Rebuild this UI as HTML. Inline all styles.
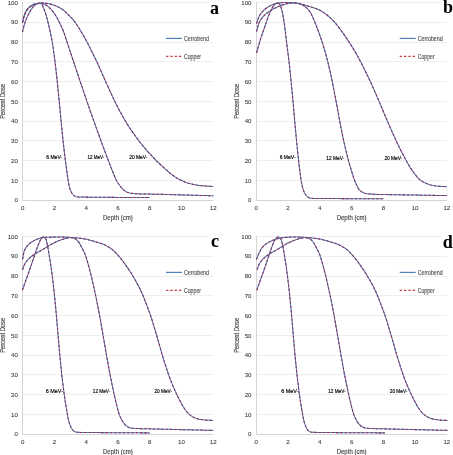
<!DOCTYPE html>
<html><head><meta charset="utf-8"><style>
html,body{margin:0;padding:0;background:#fff;}
body{width:453px;height:455px;overflow:hidden;}
svg{display:block;filter:blur(0.3px);}
.t{font-family:"Liberation Sans",sans-serif;font-size:6.1px;fill:#444444;stroke:#444444;stroke-width:0.1;}
.at{font-family:"Liberation Sans",sans-serif;font-size:6.5px;fill:#444444;stroke:#444444;stroke-width:0.15;}
.lg{font-family:"Liberation Sans",sans-serif;font-size:6.8px;fill:#444444;stroke:#444444;stroke-width:0.1;}
.el{font-family:"Liberation Sans",sans-serif;font-size:6.1px;fill:#000;stroke:#000;stroke-width:0.18;}
.pl{font-family:"Liberation Serif",serif;font-size:18px;font-weight:bold;fill:#000;}
.cb{fill:none;stroke:#5279bb;stroke-width:1.05;}
.cu{fill:none;stroke:#8e2f4e;stroke-width:1.05;stroke-dasharray:2.4 1.9;}
</style></head><body>
<svg width="453" height="455" viewBox="0 0 453 455">
<rect width="453" height="455" fill="#fff"/>
<line x1="22.6" y1="180.5" x2="213.16" y2="180.5" stroke="#eeeeee" stroke-width="1"/>
<line x1="22.6" y1="160.5" x2="213.16" y2="160.5" stroke="#eeeeee" stroke-width="1"/>
<line x1="22.6" y1="140.5" x2="213.16" y2="140.5" stroke="#eeeeee" stroke-width="1"/>
<line x1="22.6" y1="121.5" x2="213.16" y2="121.5" stroke="#eeeeee" stroke-width="1"/>
<line x1="22.6" y1="101.5" x2="213.16" y2="101.5" stroke="#eeeeee" stroke-width="1"/>
<line x1="22.6" y1="81.5" x2="213.16" y2="81.5" stroke="#eeeeee" stroke-width="1"/>
<line x1="22.6" y1="61.5" x2="213.16" y2="61.5" stroke="#eeeeee" stroke-width="1"/>
<line x1="22.6" y1="42.5" x2="213.16" y2="42.5" stroke="#eeeeee" stroke-width="1"/>
<line x1="22.6" y1="22.5" x2="213.16" y2="22.5" stroke="#eeeeee" stroke-width="1"/>
<line x1="22.6" y1="2.5" x2="208.16" y2="2.5" stroke="#eeeeee" stroke-width="1"/>
<line x1="22.5" y1="200.5" x2="213.16" y2="200.5" stroke="#d4d4d4" stroke-width="1"/>
<line x1="22.5" y1="2" x2="22.5" y2="200.5" stroke="#d4d4d4" stroke-width="1"/>
<text x="17.8" y="202.4" class="t" text-anchor="end">0</text>
<text x="17.8" y="182.63" class="t" text-anchor="end">10</text>
<text x="17.8" y="162.86" class="t" text-anchor="end">20</text>
<text x="17.8" y="143.09" class="t" text-anchor="end">30</text>
<text x="17.8" y="123.32" class="t" text-anchor="end">40</text>
<text x="17.8" y="103.55" class="t" text-anchor="end">50</text>
<text x="17.8" y="83.78" class="t" text-anchor="end">60</text>
<text x="17.8" y="64.01" class="t" text-anchor="end">70</text>
<text x="17.8" y="44.24" class="t" text-anchor="end">80</text>
<text x="17.8" y="24.47" class="t" text-anchor="end">90</text>
<text x="17.8" y="4.7" class="t" text-anchor="end">100</text>
<text x="22.6" y="209.8" class="t" text-anchor="middle">0</text>
<text x="54.36" y="209.8" class="t" text-anchor="middle">2</text>
<text x="86.12" y="209.8" class="t" text-anchor="middle">4</text>
<text x="117.88" y="209.8" class="t" text-anchor="middle">6</text>
<text x="149.64" y="209.8" class="t" text-anchor="middle">8</text>
<text x="181.4" y="209.8" class="t" text-anchor="middle">10</text>
<text x="213.16" y="209.8" class="t" text-anchor="middle">12</text>
<text x="117.88" y="219.8" class="at" text-anchor="middle" textLength="29.8" lengthAdjust="spacingAndGlyphs">Depth (cm)</text>
<text transform="translate(4.9 101.35) rotate(-90)" class="at" text-anchor="middle" textLength="34.9" lengthAdjust="spacingAndGlyphs">Percent Dose</text>
<line x1="166" y1="38.4" x2="182" y2="38.4" stroke="#4f81bd" stroke-width="1.2"/>
<line x1="166" y1="56.3" x2="182" y2="56.3" stroke="#c8404a" stroke-width="1.2" stroke-dasharray="2.4 1.9"/>
<text x="184" y="40.5" class="lg" textLength="25" lengthAdjust="spacingAndGlyphs">Cerrobend</text>
<text x="184" y="58.9" class="lg" textLength="17" lengthAdjust="spacingAndGlyphs">Copper</text>
<path d="M22.50 32.10L22.77 30.93L23.03 29.76L23.31 28.59L23.59 27.43L23.89 26.27L24.21 25.11L24.56 23.97L24.93 22.83L25.32 21.69L25.73 20.57L26.17 19.45L26.63 18.35L27.10 17.25L27.59 16.15L28.10 15.07L28.63 13.99L29.18 12.92L29.74 11.87L30.34 10.83L30.96 9.81L31.62 8.83L32.30 7.86L33.03 6.93L33.83 6.06L34.69 5.26L35.65 4.58L36.69 3.98L37.81 3.56L38.97 3.26L40.10 3.21L41.11 3.69L41.97 4.48L42.55 5.49L42.99 6.62L43.45 7.73L43.91 8.83L44.35 9.94L44.76 11.07L45.14 12.20L45.52 13.34L45.88 14.48L46.23 15.63L46.57 16.78L46.89 17.94L47.21 19.09L47.51 20.26L47.80 21.42L48.09 22.58L48.37 23.75L48.65 24.92L48.92 26.08L49.19 27.25L49.46 28.43L49.72 29.60L49.98 30.77L50.23 31.94L50.48 33.11L50.73 34.29L50.98 35.46L51.22 36.64L51.46 37.81L51.70 38.99L51.92 40.17L52.14 41.35L52.35 42.53L52.54 43.71L52.72 44.90L52.89 46.08L53.06 47.27L53.22 48.46L53.39 49.65L53.55 50.84L53.71 52.03L53.87 53.22L54.04 54.41L54.20 55.60L54.36 56.78L54.52 57.97L54.68 59.16L54.83 60.35L54.98 61.54L55.13 62.73L55.27 63.93L55.41 65.12L55.55 66.31L55.69 67.50L55.82 68.69L55.95 69.89L56.09 71.08L56.22 72.27L56.36 73.46L56.49 74.66L56.62 75.85L56.76 77.04L56.89 78.23L57.02 79.43L57.15 80.62L57.28 81.81L57.40 83.01L57.52 84.20L57.64 85.39L57.76 86.59L57.88 87.78L58.00 88.98L58.12 90.17L58.23 91.37L58.35 92.56L58.47 93.75L58.59 94.95L58.70 96.14L58.82 97.34L58.94 98.53L59.05 99.73L59.17 100.92L59.29 102.11L59.40 103.31L59.51 104.50L59.63 105.70L59.74 106.89L59.85 108.09L59.96 109.28L60.08 110.48L60.19 111.67L60.30 112.87L60.42 114.06L60.53 115.26L60.64 116.45L60.76 117.64L60.87 118.84L60.98 120.03L61.10 121.23L61.22 122.42L61.33 123.62L61.45 124.81L61.57 126.01L61.69 127.20L61.81 128.39L61.93 129.59L62.05 130.78L62.17 131.98L62.29 133.17L62.41 134.36L62.53 135.56L62.65 136.75L62.77 137.94L62.90 139.14L63.02 140.33L63.15 141.52L63.28 142.72L63.42 143.91L63.55 145.10L63.69 146.29L63.83 147.49L63.97 148.68L64.10 149.87L64.24 151.06L64.38 152.25L64.52 153.45L64.66 154.64L64.80 155.83L64.94 157.02L65.08 158.21L65.22 159.41L65.37 160.60L65.52 161.79L65.67 162.98L65.83 164.17L65.99 165.36L66.16 166.54L66.32 167.73L66.49 168.92L66.66 170.11L66.84 171.30L67.01 172.48L67.18 173.67L67.35 174.86L67.53 176.05L67.70 177.23L67.88 178.42L68.06 179.61L68.24 180.79L68.43 181.98L68.63 183.16L68.85 184.33L69.09 185.51L69.36 186.66L69.68 187.81L70.03 188.94L70.45 190.06L70.92 191.15L71.41 192.23L71.96 193.29L72.61 194.29L73.41 195.18L74.36 195.88L75.42 196.41L76.57 196.72L77.75 196.92L78.94 197.01L80.14 197.01L81.34 197.03L82.54 197.05L83.74 197.07L84.94 197.09L86.14 197.11L87.34 197.13L88.54 197.14L89.74 197.16L90.94 197.18L92.14 197.19L93.34 197.21L94.54 197.23L95.74 197.24L96.94 197.26L98.14 197.27L99.34 197.28L100.54 197.30L101.74 197.31L102.94 197.32L104.14 197.32L105.34 197.33L106.54 197.34L107.74 197.35L108.94 197.35L110.14 197.36L111.34 197.37L112.54 197.38L113.74 197.38L114.94 197.39L116.14 197.40L117.34 197.40L118.54 197.41L119.74 197.42L120.94 197.43L122.14 197.43L123.34 197.44L124.54 197.45L125.74 197.46L126.94 197.46L128.14 197.47L129.34 197.48L130.54 197.48L131.74 197.49L132.94 197.50L134.14 197.51L135.34 197.51L136.54 197.52L137.74 197.53L138.94 197.54L140.14 197.54L141.34 197.55L142.53 197.56L143.73 197.56L144.93 197.57L146.13 197.58L147.32 197.59L148.51 197.59L149.70 197.60L149.70 197.60" class="cb"/>
<path d="M22.50 32.10L22.77 30.93L23.03 29.76L23.31 28.59L23.59 27.43L23.89 26.27L24.21 25.11L24.56 23.97L24.93 22.83L25.32 21.69L25.73 20.57L26.17 19.45L26.63 18.35L27.10 17.25L27.59 16.15L28.10 15.07L28.63 13.99L29.18 12.92L29.74 11.87L30.34 10.83L30.96 9.81L31.62 8.83L32.30 7.86L33.03 6.93L33.83 6.06L34.69 5.26L35.65 4.58L36.69 3.98L37.81 3.56L38.97 3.26L40.10 3.21L41.11 3.69L41.97 4.48L42.55 5.49L42.99 6.62L43.45 7.73L43.91 8.83L44.35 9.94L44.76 11.07L45.14 12.20L45.52 13.34L45.88 14.48L46.23 15.63L46.57 16.78L46.89 17.94L47.21 19.09L47.51 20.26L47.80 21.42L48.09 22.58L48.37 23.75L48.65 24.92L48.92 26.08L49.19 27.25L49.46 28.43L49.72 29.60L49.98 30.77L50.23 31.94L50.48 33.11L50.73 34.29L50.98 35.46L51.22 36.64L51.46 37.81L51.70 38.99L51.92 40.17L52.14 41.35L52.35 42.53L52.54 43.71L52.72 44.90L52.89 46.08L53.06 47.27L53.22 48.46L53.39 49.65L53.55 50.84L53.71 52.03L53.87 53.22L54.04 54.41L54.20 55.60L54.36 56.78L54.52 57.97L54.68 59.16L54.83 60.35L54.98 61.54L55.13 62.73L55.27 63.93L55.41 65.12L55.55 66.31L55.69 67.50L55.82 68.69L55.95 69.89L56.09 71.08L56.22 72.27L56.36 73.46L56.49 74.66L56.62 75.85L56.76 77.04L56.89 78.23L57.02 79.43L57.15 80.62L57.28 81.81L57.40 83.01L57.52 84.20L57.64 85.39L57.76 86.59L57.88 87.78L58.00 88.98L58.12 90.17L58.23 91.37L58.35 92.56L58.47 93.75L58.59 94.95L58.70 96.14L58.82 97.34L58.94 98.53L59.05 99.73L59.17 100.92L59.29 102.11L59.40 103.31L59.51 104.50L59.63 105.70L59.74 106.89L59.85 108.09L59.96 109.28L60.08 110.48L60.19 111.67L60.30 112.87L60.42 114.06L60.53 115.26L60.64 116.45L60.76 117.64L60.87 118.84L60.98 120.03L61.10 121.23L61.22 122.42L61.33 123.62L61.45 124.81L61.57 126.01L61.69 127.20L61.81 128.39L61.93 129.59L62.05 130.78L62.17 131.98L62.29 133.17L62.41 134.36L62.53 135.56L62.65 136.75L62.77 137.94L62.90 139.14L63.02 140.33L63.15 141.52L63.28 142.72L63.42 143.91L63.55 145.10L63.69 146.29L63.83 147.49L63.97 148.68L64.10 149.87L64.24 151.06L64.38 152.25L64.52 153.45L64.66 154.64L64.80 155.83L64.94 157.02L65.08 158.21L65.22 159.41L65.37 160.60L65.52 161.79L65.67 162.98L65.83 164.17L65.99 165.36L66.16 166.54L66.32 167.73L66.49 168.92L66.66 170.11L66.84 171.30L67.01 172.48L67.18 173.67L67.35 174.86L67.53 176.05L67.70 177.23L67.88 178.42L68.06 179.61L68.24 180.79L68.43 181.98L68.63 183.16L68.85 184.33L69.09 185.51L69.36 186.66L69.68 187.81L70.03 188.94L70.45 190.06L70.92 191.15L71.41 192.23L71.96 193.29L72.61 194.29L73.41 195.18L74.36 195.88L75.42 196.41L76.57 196.72L77.75 196.92L78.94 197.01L80.14 197.01L81.34 197.03L82.54 197.05L83.74 197.07L84.94 197.09L86.14 197.11L87.34 197.13L88.54 197.14L89.74 197.16L90.94 197.18L92.14 197.19L93.34 197.21L94.54 197.23L95.74 197.24L96.94 197.26L98.14 197.27L99.34 197.28L100.54 197.30L101.74 197.31L102.94 197.32L104.14 197.32L105.34 197.33L106.54 197.34L107.74 197.35L108.94 197.35L110.14 197.36L111.34 197.37L112.54 197.38L113.74 197.38L114.94 197.39L116.14 197.40L117.34 197.40L118.54 197.41L119.74 197.42L120.94 197.43L122.14 197.43L123.34 197.44L124.54 197.45L125.74 197.46L126.94 197.46L128.14 197.47L129.34 197.48L130.54 197.48L131.74 197.49L132.94 197.50L134.14 197.51L135.34 197.51L136.54 197.52L137.74 197.53L138.94 197.54L140.14 197.54L141.34 197.55L142.53 197.56L143.73 197.56L144.93 197.57L146.13 197.58L147.32 197.59L148.51 197.59L149.70 197.60L149.70 197.60" class="cu"/>
<path d="M22.50 22.40L22.76 21.23L23.03 20.06L23.30 18.89L23.60 17.73L23.92 16.58L24.26 15.44L24.65 14.31L25.09 13.20L25.58 12.12L26.13 11.08L26.74 10.07L27.42 9.12L28.17 8.22L28.99 7.38L29.88 6.61L30.82 5.92L31.82 5.31L32.86 4.78L33.95 4.33L35.06 3.96L36.20 3.67L37.36 3.46L38.53 3.33L39.69 3.29L40.85 3.34L42.00 3.50L43.11 3.78L44.20 4.17L45.25 4.67L46.25 5.27L47.23 5.93L48.16 6.66L49.06 7.44L49.93 8.25L50.77 9.10L51.58 9.98L52.36 10.88L53.11 11.81L53.83 12.76L54.52 13.74L55.18 14.73L55.81 15.75L56.42 16.78L57.01 17.82L57.59 18.87L58.15 19.93L58.70 21.00L59.24 22.07L59.78 23.14L60.30 24.22L60.83 25.30L61.34 26.38L61.85 27.47L62.33 28.57L62.80 29.67L63.25 30.78L63.67 31.90L64.07 33.03L64.46 34.16L64.85 35.30L65.22 36.44L65.60 37.58L65.98 38.72L66.35 39.86L66.73 41.00L67.10 42.14L67.48 43.28L67.86 44.41L68.23 45.55L68.61 46.69L68.99 47.83L69.36 48.97L69.74 50.11L70.11 51.25L70.49 52.39L70.87 53.53L71.24 54.67L71.62 55.81L72.00 56.95L72.37 58.09L72.75 59.23L73.13 60.37L73.51 61.51L73.88 62.64L74.26 63.78L74.64 64.92L75.02 66.06L75.40 67.20L75.78 68.34L76.16 69.47L76.54 70.61L76.92 71.75L77.30 72.89L77.68 74.03L78.06 75.17L78.44 76.30L78.82 77.44L79.20 78.58L79.59 79.72L79.97 80.85L80.35 81.99L80.74 83.13L81.12 84.27L81.51 85.40L81.89 86.54L82.28 87.67L82.66 88.81L83.05 89.95L83.44 91.08L83.82 92.22L84.21 93.35L84.60 94.49L84.98 95.63L85.37 96.76L85.76 97.90L86.14 99.03L86.53 100.17L86.92 101.30L87.31 102.44L87.71 103.57L88.10 104.71L88.49 105.84L88.88 106.98L89.28 108.11L89.67 109.24L90.07 110.38L90.46 111.51L90.86 112.64L91.26 113.77L91.65 114.91L92.05 116.04L92.45 117.17L92.85 118.30L93.25 119.43L93.65 120.56L94.05 121.69L94.46 122.82L94.86 123.95L95.27 125.08L95.68 126.21L96.08 127.34L96.49 128.47L96.90 129.60L97.31 130.73L97.71 131.85L98.12 132.98L98.53 134.11L98.94 135.24L99.34 136.37L99.75 137.50L100.16 138.63L100.57 139.75L100.98 140.88L101.40 142.01L101.81 143.13L102.23 144.26L102.64 145.38L103.06 146.51L103.48 147.63L103.90 148.76L104.32 149.88L104.74 151.00L105.16 152.13L105.59 153.25L106.01 154.37L106.44 155.50L106.86 156.62L107.29 157.74L107.72 158.86L108.15 159.98L108.58 161.10L109.01 162.22L109.44 163.34L109.87 164.46L110.30 165.58L110.74 166.70L111.17 167.82L111.61 168.93L112.05 170.05L112.49 171.17L112.93 172.28L113.37 173.40L113.81 174.51L114.26 175.63L114.72 176.74L115.19 177.84L115.68 178.92L116.21 179.99L116.78 181.04L117.38 182.06L118.03 183.06L118.71 184.04L119.42 185.01L120.14 185.96L120.89 186.89L121.68 187.79L122.49 188.67L123.32 189.54L124.24 190.31L125.22 191.00L126.21 191.66L127.28 192.18L128.40 192.61L129.53 193.00L130.70 193.24L131.89 193.38L133.08 193.52L134.27 193.64L135.47 193.72L136.67 193.78L137.86 193.83L139.06 193.87L140.26 193.90L141.46 193.93L142.66 193.95L143.86 193.98L145.06 194.00L146.26 194.03L147.46 194.05L148.66 194.07L149.86 194.10L151.06 194.12L152.26 194.15L153.46 194.17L154.66 194.19L155.86 194.22L157.06 194.24L158.26 194.27L159.46 194.30L160.66 194.33L161.86 194.36L163.06 194.39L164.25 194.42L165.45 194.45L166.65 194.49L167.85 194.52L169.05 194.56L170.25 194.59L171.45 194.62L172.65 194.66L173.85 194.69L175.05 194.72L176.25 194.76L177.45 194.79L178.65 194.83L179.85 194.86L181.05 194.89L182.25 194.93L183.45 194.96L184.65 194.99L185.85 195.03L187.05 195.06L188.25 195.10L189.44 195.13L190.64 195.16L191.84 195.20L193.04 195.23L194.24 195.27L195.44 195.30L196.64 195.33L197.84 195.37L199.04 195.40L200.24 195.43L201.44 195.47L202.64 195.50L203.84 195.54L205.04 195.57L206.23 195.60L207.43 195.64L208.61 195.67L209.78 195.70L210.94 195.74L212.07 195.77L213.20 195.80L213.20 195.80" class="cb"/>
<path d="M22.50 22.40L22.76 21.23L23.03 20.06L23.30 18.89L23.60 17.73L23.92 16.58L24.26 15.44L24.65 14.31L25.09 13.20L25.58 12.12L26.13 11.08L26.74 10.07L27.42 9.12L28.17 8.22L28.99 7.38L29.88 6.61L30.82 5.92L31.82 5.31L32.86 4.78L33.95 4.33L35.06 3.96L36.20 3.67L37.36 3.46L38.53 3.33L39.69 3.29L40.85 3.34L42.00 3.50L43.11 3.78L44.20 4.17L45.25 4.67L46.25 5.27L47.23 5.93L48.16 6.66L49.06 7.44L49.93 8.25L50.77 9.10L51.58 9.98L52.36 10.88L53.11 11.81L53.83 12.76L54.52 13.74L55.18 14.73L55.81 15.75L56.42 16.78L57.01 17.82L57.59 18.87L58.15 19.93L58.70 21.00L59.24 22.07L59.78 23.14L60.30 24.22L60.83 25.30L61.34 26.38L61.85 27.47L62.33 28.57L62.80 29.67L63.25 30.78L63.67 31.90L64.07 33.03L64.46 34.16L64.85 35.30L65.22 36.44L65.60 37.58L65.98 38.72L66.35 39.86L66.73 41.00L67.10 42.14L67.48 43.28L67.86 44.41L68.23 45.55L68.61 46.69L68.99 47.83L69.36 48.97L69.74 50.11L70.11 51.25L70.49 52.39L70.87 53.53L71.24 54.67L71.62 55.81L72.00 56.95L72.37 58.09L72.75 59.23L73.13 60.37L73.51 61.51L73.88 62.64L74.26 63.78L74.64 64.92L75.02 66.06L75.40 67.20L75.78 68.34L76.16 69.47L76.54 70.61L76.92 71.75L77.30 72.89L77.68 74.03L78.06 75.17L78.44 76.30L78.82 77.44L79.20 78.58L79.59 79.72L79.97 80.85L80.35 81.99L80.74 83.13L81.12 84.27L81.51 85.40L81.89 86.54L82.28 87.67L82.66 88.81L83.05 89.95L83.44 91.08L83.82 92.22L84.21 93.35L84.60 94.49L84.98 95.63L85.37 96.76L85.76 97.90L86.14 99.03L86.53 100.17L86.92 101.30L87.31 102.44L87.71 103.57L88.10 104.71L88.49 105.84L88.88 106.98L89.28 108.11L89.67 109.24L90.07 110.38L90.46 111.51L90.86 112.64L91.26 113.77L91.65 114.91L92.05 116.04L92.45 117.17L92.85 118.30L93.25 119.43L93.65 120.56L94.05 121.69L94.46 122.82L94.86 123.95L95.27 125.08L95.68 126.21L96.08 127.34L96.49 128.47L96.90 129.60L97.31 130.73L97.71 131.85L98.12 132.98L98.53 134.11L98.94 135.24L99.34 136.37L99.75 137.50L100.16 138.63L100.57 139.75L100.98 140.88L101.40 142.01L101.81 143.13L102.23 144.26L102.64 145.38L103.06 146.51L103.48 147.63L103.90 148.76L104.32 149.88L104.74 151.00L105.16 152.13L105.59 153.25L106.01 154.37L106.44 155.50L106.86 156.62L107.29 157.74L107.72 158.86L108.15 159.98L108.58 161.10L109.01 162.22L109.44 163.34L109.87 164.46L110.30 165.58L110.74 166.70L111.17 167.82L111.61 168.93L112.05 170.05L112.49 171.17L112.93 172.28L113.37 173.40L113.81 174.51L114.26 175.63L114.72 176.74L115.19 177.84L115.68 178.92L116.21 179.99L116.78 181.04L117.38 182.06L118.03 183.06L118.71 184.04L119.42 185.01L120.14 185.96L120.89 186.89L121.68 187.79L122.49 188.67L123.32 189.54L124.24 190.31L125.22 191.00L126.21 191.66L127.28 192.18L128.40 192.61L129.53 193.00L130.70 193.24L131.89 193.38L133.08 193.52L134.27 193.64L135.47 193.72L136.67 193.78L137.86 193.83L139.06 193.87L140.26 193.90L141.46 193.93L142.66 193.95L143.86 193.98L145.06 194.00L146.26 194.03L147.46 194.05L148.66 194.07L149.86 194.10L151.06 194.12L152.26 194.15L153.46 194.17L154.66 194.19L155.86 194.22L157.06 194.24L158.26 194.27L159.46 194.30L160.66 194.33L161.86 194.36L163.06 194.39L164.25 194.42L165.45 194.45L166.65 194.49L167.85 194.52L169.05 194.56L170.25 194.59L171.45 194.62L172.65 194.66L173.85 194.69L175.05 194.72L176.25 194.76L177.45 194.79L178.65 194.83L179.85 194.86L181.05 194.89L182.25 194.93L183.45 194.96L184.65 194.99L185.85 195.03L187.05 195.06L188.25 195.10L189.44 195.13L190.64 195.16L191.84 195.20L193.04 195.23L194.24 195.27L195.44 195.30L196.64 195.33L197.84 195.37L199.04 195.40L200.24 195.43L201.44 195.47L202.64 195.50L203.84 195.54L205.04 195.57L206.23 195.60L207.43 195.64L208.61 195.67L209.78 195.70L210.94 195.74L212.07 195.77L213.20 195.80L213.20 195.80" class="cu"/>
<path d="M22.50 23.00L22.75 21.83L23.01 20.66L23.29 19.49L23.58 18.33L23.89 17.17L24.23 16.03L24.61 14.90L25.04 13.79L25.51 12.70L26.05 11.64L26.64 10.62L27.31 9.65L28.03 8.73L28.83 7.87L29.69 7.07L30.61 6.35L31.59 5.70L32.61 5.13L33.68 4.64L34.78 4.23L35.91 3.90L37.06 3.63L38.23 3.43L39.41 3.27L40.60 3.15L41.79 3.08L42.98 3.07L44.17 3.10L45.35 3.20L46.53 3.34L47.71 3.54L48.88 3.78L50.04 4.06L51.20 4.37L52.35 4.70L53.49 5.07L54.62 5.46L55.74 5.88L56.84 6.34L57.92 6.84L58.99 7.37L60.04 7.95L61.06 8.56L62.06 9.21L63.02 9.90L63.96 10.63L64.86 11.41L65.74 12.21L66.61 13.04L67.46 13.88L68.31 14.72L69.16 15.57L70.00 16.43L70.84 17.29L71.67 18.15L72.47 19.04L73.26 19.94L74.02 20.86L74.75 21.81L75.45 22.77L76.13 23.76L76.80 24.75L77.46 25.75L78.12 26.76L78.77 27.77L79.41 28.78L80.03 29.80L80.65 30.83L81.27 31.86L81.87 32.90L82.48 33.93L83.08 34.97L83.68 36.01L84.28 37.05L84.87 38.09L85.47 39.13L86.06 40.18L86.64 41.23L87.21 42.28L87.76 43.35L88.31 44.41L88.85 45.48L89.38 46.56L89.92 47.63L90.45 48.71L90.98 49.79L91.51 50.86L92.04 51.94L92.56 53.02L93.09 54.10L93.62 55.17L94.15 56.25L94.68 57.33L95.21 58.41L95.73 59.48L96.25 60.57L96.76 61.65L97.27 62.74L97.77 63.83L98.27 64.92L98.76 66.02L99.25 67.11L99.73 68.21L100.22 69.30L100.71 70.40L101.20 71.50L101.68 72.60L102.17 73.69L102.66 74.79L103.14 75.89L103.63 76.98L104.12 78.08L104.61 79.17L105.10 80.27L105.59 81.36L106.08 82.46L106.58 83.55L107.08 84.64L107.58 85.73L108.08 86.82L108.58 87.91L109.08 89.01L109.58 90.10L110.08 91.19L110.58 92.28L111.08 93.37L111.58 94.46L112.09 95.55L112.59 96.64L113.09 97.73L113.60 98.81L114.11 99.90L114.62 100.98L115.15 102.06L115.68 103.14L116.21 104.21L116.75 105.29L117.29 106.35L117.84 107.42L118.39 108.49L118.95 109.55L119.52 110.61L120.09 111.66L120.67 112.71L121.25 113.76L121.84 114.81L122.43 115.86L123.01 116.90L123.61 117.95L124.20 118.99L124.80 120.03L125.41 121.06L126.03 122.09L126.65 123.11L127.28 124.13L127.92 125.15L128.56 126.16L129.21 127.17L129.87 128.18L130.53 129.17L131.21 130.17L131.89 131.15L132.58 132.13L133.27 133.11L133.97 134.09L134.66 135.07L135.36 136.04L136.06 137.02L136.76 137.99L137.47 138.96L138.18 139.93L138.91 140.88L139.64 141.83L140.39 142.77L141.14 143.70L141.90 144.63L142.66 145.56L143.43 146.48L144.19 147.41L144.96 148.33L145.74 149.24L146.52 150.15L147.31 151.05L148.11 151.94L148.92 152.83L149.74 153.71L150.56 154.58L151.38 155.46L152.21 156.33L153.03 157.20L153.86 158.07L154.69 158.94L155.52 159.80L156.36 160.66L157.21 161.51L158.07 162.35L158.93 163.18L159.80 164.00L160.68 164.82L161.56 165.63L162.45 166.44L163.33 167.25L164.23 168.06L165.12 168.86L166.01 169.66L166.91 170.45L167.82 171.24L168.72 172.02L169.64 172.80L170.56 173.56L171.50 174.31L172.45 175.04L173.42 175.74L174.40 176.43L175.40 177.09L176.41 177.73L177.43 178.35L178.47 178.95L179.52 179.52L180.59 180.06L181.67 180.58L182.76 181.07L183.86 181.54L184.97 181.99L186.09 182.40L187.22 182.79L188.36 183.16L189.51 183.50L190.67 183.82L191.83 184.11L193.00 184.38L194.17 184.62L195.35 184.85L196.53 185.06L197.71 185.24L198.90 185.41L200.09 185.56L201.28 185.69L202.47 185.81L203.67 185.91L204.86 186.00L206.06 186.08L207.26 186.15L208.45 186.22L209.64 186.29L210.83 186.35L212.02 186.42L213.20 186.49L213.20 186.49" class="cb"/>
<path d="M22.50 23.00L22.75 21.83L23.01 20.66L23.29 19.49L23.58 18.33L23.89 17.17L24.23 16.03L24.61 14.90L25.04 13.79L25.51 12.70L26.05 11.64L26.64 10.62L27.31 9.65L28.03 8.73L28.83 7.87L29.69 7.07L30.61 6.35L31.59 5.70L32.61 5.13L33.68 4.64L34.78 4.23L35.91 3.90L37.06 3.63L38.23 3.43L39.41 3.27L40.60 3.15L41.79 3.08L42.98 3.07L44.17 3.10L45.35 3.20L46.53 3.34L47.71 3.54L48.88 3.78L50.04 4.06L51.20 4.37L52.35 4.70L53.49 5.07L54.62 5.46L55.74 5.88L56.84 6.34L57.92 6.84L58.99 7.37L60.04 7.95L61.06 8.56L62.06 9.21L63.02 9.90L63.96 10.63L64.86 11.41L65.74 12.21L66.61 13.04L67.46 13.88L68.31 14.72L69.16 15.57L70.00 16.43L70.84 17.29L71.67 18.15L72.47 19.04L73.26 19.94L74.02 20.86L74.75 21.81L75.45 22.77L76.13 23.76L76.80 24.75L77.46 25.75L78.12 26.76L78.77 27.77L79.41 28.78L80.03 29.80L80.65 30.83L81.27 31.86L81.87 32.90L82.48 33.93L83.08 34.97L83.68 36.01L84.28 37.05L84.87 38.09L85.47 39.13L86.06 40.18L86.64 41.23L87.21 42.28L87.76 43.35L88.31 44.41L88.85 45.48L89.38 46.56L89.92 47.63L90.45 48.71L90.98 49.79L91.51 50.86L92.04 51.94L92.56 53.02L93.09 54.10L93.62 55.17L94.15 56.25L94.68 57.33L95.21 58.41L95.73 59.48L96.25 60.57L96.76 61.65L97.27 62.74L97.77 63.83L98.27 64.92L98.76 66.02L99.25 67.11L99.73 68.21L100.22 69.30L100.71 70.40L101.20 71.50L101.68 72.60L102.17 73.69L102.66 74.79L103.14 75.89L103.63 76.98L104.12 78.08L104.61 79.17L105.10 80.27L105.59 81.36L106.08 82.46L106.58 83.55L107.08 84.64L107.58 85.73L108.08 86.82L108.58 87.91L109.08 89.01L109.58 90.10L110.08 91.19L110.58 92.28L111.08 93.37L111.58 94.46L112.09 95.55L112.59 96.64L113.09 97.73L113.60 98.81L114.11 99.90L114.62 100.98L115.15 102.06L115.68 103.14L116.21 104.21L116.75 105.29L117.29 106.35L117.84 107.42L118.39 108.49L118.95 109.55L119.52 110.61L120.09 111.66L120.67 112.71L121.25 113.76L121.84 114.81L122.43 115.86L123.01 116.90L123.61 117.95L124.20 118.99L124.80 120.03L125.41 121.06L126.03 122.09L126.65 123.11L127.28 124.13L127.92 125.15L128.56 126.16L129.21 127.17L129.87 128.18L130.53 129.17L131.21 130.17L131.89 131.15L132.58 132.13L133.27 133.11L133.97 134.09L134.66 135.07L135.36 136.04L136.06 137.02L136.76 137.99L137.47 138.96L138.18 139.93L138.91 140.88L139.64 141.83L140.39 142.77L141.14 143.70L141.90 144.63L142.66 145.56L143.43 146.48L144.19 147.41L144.96 148.33L145.74 149.24L146.52 150.15L147.31 151.05L148.11 151.94L148.92 152.83L149.74 153.71L150.56 154.58L151.38 155.46L152.21 156.33L153.03 157.20L153.86 158.07L154.69 158.94L155.52 159.80L156.36 160.66L157.21 161.51L158.07 162.35L158.93 163.18L159.80 164.00L160.68 164.82L161.56 165.63L162.45 166.44L163.33 167.25L164.23 168.06L165.12 168.86L166.01 169.66L166.91 170.45L167.82 171.24L168.72 172.02L169.64 172.80L170.56 173.56L171.50 174.31L172.45 175.04L173.42 175.74L174.40 176.43L175.40 177.09L176.41 177.73L177.43 178.35L178.47 178.95L179.52 179.52L180.59 180.06L181.67 180.58L182.76 181.07L183.86 181.54L184.97 181.99L186.09 182.40L187.22 182.79L188.36 183.16L189.51 183.50L190.67 183.82L191.83 184.11L193.00 184.38L194.17 184.62L195.35 184.85L196.53 185.06L197.71 185.24L198.90 185.41L200.09 185.56L201.28 185.69L202.47 185.81L203.67 185.91L204.86 186.00L206.06 186.08L207.26 186.15L208.45 186.22L209.64 186.29L210.83 186.35L212.02 186.42L213.20 186.49L213.20 186.49" class="cu"/>
<text x="46.2" y="158.6" class="el" textLength="16" lengthAdjust="spacingAndGlyphs">6 MeV-</text>
<text x="87.4" y="158.7" class="el" textLength="17" lengthAdjust="spacingAndGlyphs">12 MeV-</text>
<text x="129.3" y="158.6" class="el" textLength="18.1" lengthAdjust="spacingAndGlyphs">20 MeV-</text>
<rect x="207.96" y="-0" width="20" height="6" fill="#fff"/>
<text x="210" y="13.9" class="pl">a</text>
<line x1="256.3" y1="180.5" x2="446.86" y2="180.5" stroke="#eeeeee" stroke-width="1"/>
<line x1="256.3" y1="160.5" x2="446.86" y2="160.5" stroke="#eeeeee" stroke-width="1"/>
<line x1="256.3" y1="140.5" x2="446.86" y2="140.5" stroke="#eeeeee" stroke-width="1"/>
<line x1="256.3" y1="121.5" x2="446.86" y2="121.5" stroke="#eeeeee" stroke-width="1"/>
<line x1="256.3" y1="101.5" x2="446.86" y2="101.5" stroke="#eeeeee" stroke-width="1"/>
<line x1="256.3" y1="81.5" x2="446.86" y2="81.5" stroke="#eeeeee" stroke-width="1"/>
<line x1="256.3" y1="61.5" x2="446.86" y2="61.5" stroke="#eeeeee" stroke-width="1"/>
<line x1="256.3" y1="42.5" x2="446.86" y2="42.5" stroke="#eeeeee" stroke-width="1"/>
<line x1="256.3" y1="22.5" x2="446.86" y2="22.5" stroke="#eeeeee" stroke-width="1"/>
<line x1="256.3" y1="2.5" x2="441.86" y2="2.5" stroke="#eeeeee" stroke-width="1"/>
<line x1="256.5" y1="200.5" x2="446.86" y2="200.5" stroke="#d4d4d4" stroke-width="1"/>
<line x1="256.5" y1="2" x2="256.5" y2="200.5" stroke="#d4d4d4" stroke-width="1"/>
<text x="251.5" y="202.4" class="t" text-anchor="end">0</text>
<text x="251.5" y="182.63" class="t" text-anchor="end">10</text>
<text x="251.5" y="162.86" class="t" text-anchor="end">20</text>
<text x="251.5" y="143.09" class="t" text-anchor="end">30</text>
<text x="251.5" y="123.32" class="t" text-anchor="end">40</text>
<text x="251.5" y="103.55" class="t" text-anchor="end">50</text>
<text x="251.5" y="83.78" class="t" text-anchor="end">60</text>
<text x="251.5" y="64.01" class="t" text-anchor="end">70</text>
<text x="251.5" y="44.24" class="t" text-anchor="end">80</text>
<text x="251.5" y="24.47" class="t" text-anchor="end">90</text>
<text x="251.5" y="4.7" class="t" text-anchor="end">100</text>
<text x="256.3" y="209.8" class="t" text-anchor="middle">0</text>
<text x="288.06" y="209.8" class="t" text-anchor="middle">2</text>
<text x="319.82" y="209.8" class="t" text-anchor="middle">4</text>
<text x="351.58" y="209.8" class="t" text-anchor="middle">6</text>
<text x="383.34" y="209.8" class="t" text-anchor="middle">8</text>
<text x="415.1" y="209.8" class="t" text-anchor="middle">10</text>
<text x="446.86" y="209.8" class="t" text-anchor="middle">12</text>
<text x="351.58" y="219.8" class="at" text-anchor="middle" textLength="29.8" lengthAdjust="spacingAndGlyphs">Depth (cm)</text>
<text transform="translate(238.6 101.35) rotate(-90)" class="at" text-anchor="middle" textLength="34.9" lengthAdjust="spacingAndGlyphs">Percent Dose</text>
<line x1="399.7" y1="38.4" x2="415.7" y2="38.4" stroke="#4f81bd" stroke-width="1.2"/>
<line x1="399.7" y1="56.3" x2="415.7" y2="56.3" stroke="#c8404a" stroke-width="1.2" stroke-dasharray="2.4 1.9"/>
<text x="417.7" y="40.5" class="lg" textLength="25" lengthAdjust="spacingAndGlyphs">Cerrobend</text>
<text x="417.7" y="58.9" class="lg" textLength="17" lengthAdjust="spacingAndGlyphs">Copper</text>
<path d="M256.60 52.80L256.92 51.64L257.25 50.49L257.57 49.33L257.90 48.18L258.22 47.02L258.54 45.87L258.87 44.71L259.20 43.56L259.53 42.41L259.87 41.26L260.22 40.11L260.58 38.96L260.95 37.82L261.33 36.69L261.72 35.55L262.11 34.42L262.50 33.28L262.90 32.15L263.29 31.01L263.68 29.88L264.08 28.75L264.47 27.61L264.86 26.48L265.25 25.34L265.63 24.21L266.02 23.07L266.40 21.93L266.79 20.80L267.17 19.66L267.56 18.53L267.96 17.40L268.37 16.27L268.81 15.15L269.26 14.05L269.75 12.95L270.25 11.87L270.77 10.79L271.32 9.73L271.87 8.67L272.43 7.62L273.03 6.60L273.78 5.68L274.60 4.80L275.45 3.95L276.31 3.16L277.27 2.90L278.36 3.26L279.42 3.76L280.14 4.58L280.50 5.71L280.83 6.85L281.18 7.99L281.52 9.13L281.84 10.27L282.13 11.43L282.41 12.60L282.67 13.77L282.90 14.94L283.11 16.12L283.31 17.30L283.50 18.49L283.68 19.67L283.86 20.86L284.04 22.05L284.21 23.23L284.39 24.42L284.55 25.61L284.71 26.80L284.87 27.99L285.02 29.18L285.17 30.37L285.31 31.56L285.45 32.75L285.60 33.94L285.74 35.13L285.88 36.33L286.02 37.52L286.16 38.71L286.31 39.90L286.45 41.09L286.60 42.28L286.74 43.47L286.89 44.66L287.04 45.86L287.19 47.05L287.34 48.24L287.49 49.43L287.64 50.62L287.79 51.81L287.94 53.00L288.09 54.19L288.24 55.38L288.39 56.57L288.54 57.76L288.69 58.95L288.83 60.14L288.97 61.33L289.11 62.53L289.25 63.72L289.38 64.91L289.50 66.11L289.63 67.30L289.76 68.49L289.88 69.69L290.01 70.88L290.14 72.07L290.26 73.27L290.39 74.46L290.51 75.65L290.64 76.85L290.76 78.04L290.89 79.23L291.01 80.43L291.13 81.62L291.25 82.81L291.36 84.01L291.48 85.20L291.59 86.40L291.70 87.59L291.81 88.79L291.92 89.98L292.03 91.18L292.15 92.37L292.26 93.57L292.37 94.76L292.48 95.96L292.59 97.15L292.70 98.35L292.81 99.54L292.92 100.74L293.03 101.93L293.13 103.13L293.24 104.32L293.35 105.52L293.45 106.71L293.56 107.91L293.67 109.10L293.77 110.30L293.88 111.49L293.98 112.69L294.09 113.88L294.19 115.08L294.30 116.28L294.40 117.47L294.51 118.67L294.62 119.86L294.72 121.06L294.83 122.25L294.94 123.45L295.05 124.64L295.16 125.84L295.26 127.03L295.37 128.23L295.48 129.42L295.59 130.62L295.70 131.81L295.81 133.01L295.92 134.20L296.03 135.40L296.14 136.59L296.25 137.79L296.37 138.98L296.48 140.18L296.60 141.37L296.71 142.56L296.83 143.76L296.96 144.95L297.08 146.15L297.20 147.34L297.32 148.53L297.45 149.73L297.57 150.92L297.69 152.11L297.81 153.31L297.94 154.50L298.06 155.70L298.19 156.89L298.31 158.08L298.44 159.28L298.57 160.47L298.71 161.66L298.85 162.85L298.99 164.04L299.13 165.24L299.28 166.43L299.42 167.62L299.57 168.81L299.71 170.00L299.86 171.19L300.00 172.38L300.15 173.57L300.30 174.76L300.45 175.95L300.61 177.14L300.77 178.33L300.96 179.52L301.15 180.70L301.37 181.88L301.61 183.05L301.86 184.22L302.12 185.39L302.40 186.56L302.70 187.72L303.03 188.86L303.39 189.99L303.78 191.11L304.26 192.19L304.80 193.25L305.36 194.29L305.98 195.30L306.79 196.16L307.74 196.88L308.71 197.59L309.74 198.11L310.91 198.27L312.10 198.34L313.30 198.40L314.50 198.45L315.70 198.48L316.90 198.49L318.10 198.50L319.30 198.51L320.50 198.52L321.70 198.53L322.90 198.53L324.10 198.54L325.30 198.54L326.50 198.55L327.70 198.55L328.90 198.56L330.10 198.56L331.30 198.57L332.50 198.57L333.70 198.57L334.90 198.58L336.10 198.58L337.30 198.59L338.50 198.59L339.70 198.60L340.90 198.60L342.10 198.61L343.30 198.62L344.50 198.62L345.70 198.63L346.90 198.63L348.10 198.64L349.30 198.64L350.50 198.65L351.70 198.65L352.90 198.66L354.10 198.66L355.30 198.67L356.50 198.68L357.70 198.68L358.90 198.69L360.10 198.69L361.30 198.70L362.50 198.70L363.70 198.71L364.90 198.71L366.10 198.72L367.30 198.73L368.50 198.73L369.70 198.74L370.90 198.74L372.10 198.75L373.30 198.75L374.50 198.76L375.69 198.76L376.89 198.77L378.08 198.78L379.25 198.78L380.41 198.79L381.55 198.79L382.66 198.80L383.40 198.80" class="cb"/>
<path d="M256.60 52.80L256.92 51.64L257.25 50.49L257.57 49.33L257.90 48.18L258.22 47.02L258.54 45.87L258.87 44.71L259.20 43.56L259.53 42.41L259.87 41.26L260.22 40.11L260.58 38.96L260.95 37.82L261.33 36.69L261.72 35.55L262.11 34.42L262.50 33.28L262.90 32.15L263.29 31.01L263.68 29.88L264.08 28.75L264.47 27.61L264.86 26.48L265.25 25.34L265.63 24.21L266.02 23.07L266.40 21.93L266.79 20.80L267.17 19.66L267.56 18.53L267.96 17.40L268.37 16.27L268.81 15.15L269.26 14.05L269.75 12.95L270.25 11.87L270.77 10.79L271.32 9.73L271.87 8.67L272.43 7.62L273.03 6.60L273.78 5.68L274.60 4.80L275.45 3.95L276.31 3.16L277.27 2.90L278.36 3.26L279.42 3.76L280.14 4.58L280.50 5.71L280.83 6.85L281.18 7.99L281.52 9.13L281.84 10.27L282.13 11.43L282.41 12.60L282.67 13.77L282.90 14.94L283.11 16.12L283.31 17.30L283.50 18.49L283.68 19.67L283.86 20.86L284.04 22.05L284.21 23.23L284.39 24.42L284.55 25.61L284.71 26.80L284.87 27.99L285.02 29.18L285.17 30.37L285.31 31.56L285.45 32.75L285.60 33.94L285.74 35.13L285.88 36.33L286.02 37.52L286.16 38.71L286.31 39.90L286.45 41.09L286.60 42.28L286.74 43.47L286.89 44.66L287.04 45.86L287.19 47.05L287.34 48.24L287.49 49.43L287.64 50.62L287.79 51.81L287.94 53.00L288.09 54.19L288.24 55.38L288.39 56.57L288.54 57.76L288.69 58.95L288.83 60.14L288.97 61.33L289.11 62.53L289.25 63.72L289.38 64.91L289.50 66.11L289.63 67.30L289.76 68.49L289.88 69.69L290.01 70.88L290.14 72.07L290.26 73.27L290.39 74.46L290.51 75.65L290.64 76.85L290.76 78.04L290.89 79.23L291.01 80.43L291.13 81.62L291.25 82.81L291.36 84.01L291.48 85.20L291.59 86.40L291.70 87.59L291.81 88.79L291.92 89.98L292.03 91.18L292.15 92.37L292.26 93.57L292.37 94.76L292.48 95.96L292.59 97.15L292.70 98.35L292.81 99.54L292.92 100.74L293.03 101.93L293.13 103.13L293.24 104.32L293.35 105.52L293.45 106.71L293.56 107.91L293.67 109.10L293.77 110.30L293.88 111.49L293.98 112.69L294.09 113.88L294.19 115.08L294.30 116.28L294.40 117.47L294.51 118.67L294.62 119.86L294.72 121.06L294.83 122.25L294.94 123.45L295.05 124.64L295.16 125.84L295.26 127.03L295.37 128.23L295.48 129.42L295.59 130.62L295.70 131.81L295.81 133.01L295.92 134.20L296.03 135.40L296.14 136.59L296.25 137.79L296.37 138.98L296.48 140.18L296.60 141.37L296.71 142.56L296.83 143.76L296.96 144.95L297.08 146.15L297.20 147.34L297.32 148.53L297.45 149.73L297.57 150.92L297.69 152.11L297.81 153.31L297.94 154.50L298.06 155.70L298.19 156.89L298.31 158.08L298.44 159.28L298.57 160.47L298.71 161.66L298.85 162.85L298.99 164.04L299.13 165.24L299.28 166.43L299.42 167.62L299.57 168.81L299.71 170.00L299.86 171.19L300.00 172.38L300.15 173.57L300.30 174.76L300.45 175.95L300.61 177.14L300.77 178.33L300.96 179.52L301.15 180.70L301.37 181.88L301.61 183.05L301.86 184.22L302.12 185.39L302.40 186.56L302.70 187.72L303.03 188.86L303.39 189.99L303.78 191.11L304.26 192.19L304.80 193.25L305.36 194.29L305.98 195.30L306.79 196.16L307.74 196.88L308.71 197.59L309.74 198.11L310.91 198.27L312.10 198.34L313.30 198.40L314.50 198.45L315.70 198.48L316.90 198.49L318.10 198.50L319.30 198.51L320.50 198.52L321.70 198.53L322.90 198.53L324.10 198.54L325.30 198.54L326.50 198.55L327.70 198.55L328.90 198.56L330.10 198.56L331.30 198.57L332.50 198.57L333.70 198.57L334.90 198.58L336.10 198.58L337.30 198.59L338.50 198.59L339.70 198.60L340.90 198.60L342.10 198.61L343.30 198.62L344.50 198.62L345.70 198.63L346.90 198.63L348.10 198.64L349.30 198.64L350.50 198.65L351.70 198.65L352.90 198.66L354.10 198.66L355.30 198.67L356.50 198.68L357.70 198.68L358.90 198.69L360.10 198.69L361.30 198.70L362.50 198.70L363.70 198.71L364.90 198.71L366.10 198.72L367.30 198.73L368.50 198.73L369.70 198.74L370.90 198.74L372.10 198.75L373.30 198.75L374.50 198.76L375.69 198.76L376.89 198.77L378.08 198.78L379.25 198.78L380.41 198.79L381.55 198.79L382.66 198.80L383.40 198.80" class="cu"/>
<path d="M256.60 23.70L256.95 22.55L257.31 21.41L257.67 20.27L258.05 19.14L258.47 18.02L258.92 16.93L259.44 15.87L260.02 14.84L260.65 13.84L261.35 12.89L262.10 11.97L262.90 11.09L263.74 10.26L264.63 9.47L265.55 8.72L266.51 8.01L267.49 7.33L268.50 6.70L269.53 6.10L270.58 5.54L271.66 5.03L272.75 4.55L273.86 4.13L274.99 3.76L276.14 3.45L277.30 3.19L278.48 2.99L279.66 2.83L280.85 2.72L282.04 2.63L283.24 2.57L284.44 2.52L285.63 2.49L286.83 2.47L288.03 2.47L289.23 2.49L290.43 2.52L291.63 2.57L292.82 2.64L294.02 2.74L295.20 2.86L296.38 3.03L297.55 3.24L298.69 3.53L299.81 3.89L300.91 4.32L301.97 4.83L303.02 5.40L304.03 6.02L305.01 6.68L305.95 7.40L306.85 8.17L307.70 9.00L308.49 9.88L309.23 10.80L309.91 11.77L310.54 12.77L311.13 13.81L311.67 14.87L312.18 15.95L312.67 17.04L313.14 18.14L313.61 19.25L314.07 20.36L314.53 21.47L314.98 22.58L315.43 23.69L315.87 24.80L316.31 25.92L316.75 27.04L317.19 28.16L317.62 29.27L318.05 30.39L318.48 31.52L318.90 32.64L319.31 33.77L319.71 34.90L320.11 36.03L320.50 37.16L320.89 38.30L321.28 39.43L321.66 40.57L322.03 41.71L322.40 42.85L322.76 44.00L323.11 45.15L323.46 46.29L323.81 47.44L324.15 48.59L324.50 49.74L324.83 50.89L325.17 52.04L325.50 53.20L325.82 54.35L326.14 55.51L326.45 56.67L326.76 57.83L327.06 58.99L327.36 60.15L327.66 61.31L327.95 62.48L328.24 63.64L328.52 64.81L328.80 65.98L329.07 67.15L329.34 68.31L329.62 69.48L329.89 70.65L330.16 71.82L330.43 72.99L330.69 74.16L330.95 75.33L331.21 76.50L331.46 77.68L331.71 78.85L331.95 80.03L332.19 81.20L332.43 82.38L332.66 83.56L332.90 84.73L333.12 85.91L333.35 87.09L333.58 88.27L333.81 89.45L334.03 90.62L334.26 91.80L334.48 92.98L334.71 94.16L334.94 95.34L335.16 96.52L335.39 97.69L335.61 98.87L335.84 100.05L336.06 101.23L336.28 102.41L336.50 103.59L336.72 104.77L336.94 105.95L337.15 107.13L337.37 108.31L337.59 109.49L337.80 110.67L338.02 111.85L338.23 113.03L338.45 114.21L338.67 115.39L338.88 116.57L339.10 117.75L339.32 118.93L339.54 120.11L339.76 121.29L339.98 122.47L340.20 123.65L340.42 124.83L340.65 126.01L340.88 127.19L341.11 128.37L341.34 129.54L341.57 130.72L341.81 131.90L342.04 133.07L342.28 134.25L342.53 135.43L342.77 136.60L343.01 137.77L343.26 138.95L343.52 140.12L343.78 141.29L344.04 142.46L344.31 143.63L344.59 144.80L344.86 145.97L345.14 147.14L345.42 148.30L345.70 149.47L345.98 150.64L346.26 151.80L346.54 152.97L346.82 154.14L347.10 155.30L347.38 156.47L347.67 157.63L347.96 158.80L348.27 159.96L348.58 161.12L348.91 162.27L349.24 163.42L349.58 164.57L349.93 165.72L350.28 166.87L350.63 168.02L350.98 169.17L351.33 170.31L351.68 171.46L352.03 172.61L352.38 173.76L352.73 174.90L353.09 176.05L353.45 177.19L353.83 178.33L354.23 179.46L354.65 180.57L355.10 181.68L355.58 182.78L356.07 183.87L356.59 184.95L357.11 186.03L357.64 187.10L358.16 188.19L358.74 189.22L359.54 190.10L360.41 190.92L361.34 191.67L362.36 192.30L363.44 192.81L364.58 193.18L365.73 193.49L366.90 193.70L368.09 193.83L369.28 193.94L370.47 194.05L371.67 194.14L372.86 194.22L374.06 194.29L375.26 194.35L376.46 194.39L377.66 194.43L378.86 194.46L380.06 194.48L381.26 194.50L382.46 194.52L383.65 194.54L384.85 194.56L386.05 194.58L387.25 194.60L388.45 194.62L389.65 194.64L390.85 194.66L392.05 194.68L393.25 194.70L394.45 194.72L395.65 194.74L396.85 194.76L398.05 194.78L399.25 194.80L400.45 194.82L401.65 194.84L402.85 194.86L404.05 194.88L405.25 194.90L406.45 194.92L407.65 194.94L408.85 194.96L410.05 194.98L411.25 195.00L412.45 195.02L413.65 195.04L414.85 195.06L416.05 195.08L417.25 195.10L418.45 195.12L419.65 195.14L420.85 195.16L422.05 195.18L423.25 195.20L424.45 195.22L425.65 195.24L426.85 195.26L428.05 195.28L429.25 195.30L430.45 195.32L431.65 195.34L432.85 195.36L434.05 195.38L435.25 195.40L436.45 195.42L437.65 195.44L438.85 195.46L440.04 195.48L441.24 195.50L442.42 195.52L443.59 195.54L444.74 195.56L445.88 195.58L447.00 195.60L447.00 195.60" class="cb"/>
<path d="M256.60 23.70L256.95 22.55L257.31 21.41L257.67 20.27L258.05 19.14L258.47 18.02L258.92 16.93L259.44 15.87L260.02 14.84L260.65 13.84L261.35 12.89L262.10 11.97L262.90 11.09L263.74 10.26L264.63 9.47L265.55 8.72L266.51 8.01L267.49 7.33L268.50 6.70L269.53 6.10L270.58 5.54L271.66 5.03L272.75 4.55L273.86 4.13L274.99 3.76L276.14 3.45L277.30 3.19L278.48 2.99L279.66 2.83L280.85 2.72L282.04 2.63L283.24 2.57L284.44 2.52L285.63 2.49L286.83 2.47L288.03 2.47L289.23 2.49L290.43 2.52L291.63 2.57L292.82 2.64L294.02 2.74L295.20 2.86L296.38 3.03L297.55 3.24L298.69 3.53L299.81 3.89L300.91 4.32L301.97 4.83L303.02 5.40L304.03 6.02L305.01 6.68L305.95 7.40L306.85 8.17L307.70 9.00L308.49 9.88L309.23 10.80L309.91 11.77L310.54 12.77L311.13 13.81L311.67 14.87L312.18 15.95L312.67 17.04L313.14 18.14L313.61 19.25L314.07 20.36L314.53 21.47L314.98 22.58L315.43 23.69L315.87 24.80L316.31 25.92L316.75 27.04L317.19 28.16L317.62 29.27L318.05 30.39L318.48 31.52L318.90 32.64L319.31 33.77L319.71 34.90L320.11 36.03L320.50 37.16L320.89 38.30L321.28 39.43L321.66 40.57L322.03 41.71L322.40 42.85L322.76 44.00L323.11 45.15L323.46 46.29L323.81 47.44L324.15 48.59L324.50 49.74L324.83 50.89L325.17 52.04L325.50 53.20L325.82 54.35L326.14 55.51L326.45 56.67L326.76 57.83L327.06 58.99L327.36 60.15L327.66 61.31L327.95 62.48L328.24 63.64L328.52 64.81L328.80 65.98L329.07 67.15L329.34 68.31L329.62 69.48L329.89 70.65L330.16 71.82L330.43 72.99L330.69 74.16L330.95 75.33L331.21 76.50L331.46 77.68L331.71 78.85L331.95 80.03L332.19 81.20L332.43 82.38L332.66 83.56L332.90 84.73L333.12 85.91L333.35 87.09L333.58 88.27L333.81 89.45L334.03 90.62L334.26 91.80L334.48 92.98L334.71 94.16L334.94 95.34L335.16 96.52L335.39 97.69L335.61 98.87L335.84 100.05L336.06 101.23L336.28 102.41L336.50 103.59L336.72 104.77L336.94 105.95L337.15 107.13L337.37 108.31L337.59 109.49L337.80 110.67L338.02 111.85L338.23 113.03L338.45 114.21L338.67 115.39L338.88 116.57L339.10 117.75L339.32 118.93L339.54 120.11L339.76 121.29L339.98 122.47L340.20 123.65L340.42 124.83L340.65 126.01L340.88 127.19L341.11 128.37L341.34 129.54L341.57 130.72L341.81 131.90L342.04 133.07L342.28 134.25L342.53 135.43L342.77 136.60L343.01 137.77L343.26 138.95L343.52 140.12L343.78 141.29L344.04 142.46L344.31 143.63L344.59 144.80L344.86 145.97L345.14 147.14L345.42 148.30L345.70 149.47L345.98 150.64L346.26 151.80L346.54 152.97L346.82 154.14L347.10 155.30L347.38 156.47L347.67 157.63L347.96 158.80L348.27 159.96L348.58 161.12L348.91 162.27L349.24 163.42L349.58 164.57L349.93 165.72L350.28 166.87L350.63 168.02L350.98 169.17L351.33 170.31L351.68 171.46L352.03 172.61L352.38 173.76L352.73 174.90L353.09 176.05L353.45 177.19L353.83 178.33L354.23 179.46L354.65 180.57L355.10 181.68L355.58 182.78L356.07 183.87L356.59 184.95L357.11 186.03L357.64 187.10L358.16 188.19L358.74 189.22L359.54 190.10L360.41 190.92L361.34 191.67L362.36 192.30L363.44 192.81L364.58 193.18L365.73 193.49L366.90 193.70L368.09 193.83L369.28 193.94L370.47 194.05L371.67 194.14L372.86 194.22L374.06 194.29L375.26 194.35L376.46 194.39L377.66 194.43L378.86 194.46L380.06 194.48L381.26 194.50L382.46 194.52L383.65 194.54L384.85 194.56L386.05 194.58L387.25 194.60L388.45 194.62L389.65 194.64L390.85 194.66L392.05 194.68L393.25 194.70L394.45 194.72L395.65 194.74L396.85 194.76L398.05 194.78L399.25 194.80L400.45 194.82L401.65 194.84L402.85 194.86L404.05 194.88L405.25 194.90L406.45 194.92L407.65 194.94L408.85 194.96L410.05 194.98L411.25 195.00L412.45 195.02L413.65 195.04L414.85 195.06L416.05 195.08L417.25 195.10L418.45 195.12L419.65 195.14L420.85 195.16L422.05 195.18L423.25 195.20L424.45 195.22L425.65 195.24L426.85 195.26L428.05 195.28L429.25 195.30L430.45 195.32L431.65 195.34L432.85 195.36L434.05 195.38L435.25 195.40L436.45 195.42L437.65 195.44L438.85 195.46L440.04 195.48L441.24 195.50L442.42 195.52L443.59 195.54L444.74 195.56L445.88 195.58L447.00 195.60L447.00 195.60" class="cu"/>
<path d="M256.60 31.70L256.88 30.53L257.17 29.37L257.45 28.20L257.75 27.04L258.05 25.89L258.39 24.74L258.76 23.62L259.19 22.53L259.69 21.46L260.27 20.43L260.90 19.44L261.60 18.48L262.34 17.55L263.12 16.66L263.95 15.80L264.80 14.97L265.69 14.17L266.60 13.40L267.54 12.65L268.49 11.94L269.47 11.25L270.47 10.60L271.49 9.96L272.52 9.35L273.56 8.77L274.62 8.22L275.70 7.69L276.79 7.20L277.89 6.73L279.00 6.29L280.12 5.87L281.25 5.46L282.38 5.07L283.52 4.71L284.67 4.36L285.82 4.04L286.98 3.75L288.15 3.50L289.32 3.29L290.51 3.13L291.69 3.00L292.88 2.93L294.07 2.91L295.25 2.95L296.43 3.06L297.61 3.23L298.77 3.46L299.94 3.73L301.09 4.04L302.25 4.37L303.40 4.70L304.55 5.04L305.70 5.39L306.84 5.73L307.99 6.08L309.14 6.42L310.29 6.76L311.44 7.11L312.59 7.45L313.74 7.81L314.87 8.18L316.00 8.57L317.11 9.01L318.20 9.49L319.27 10.01L320.32 10.57L321.36 11.17L322.38 11.79L323.39 12.44L324.38 13.11L325.36 13.80L326.32 14.51L327.27 15.24L328.20 15.99L329.12 16.77L330.01 17.56L330.89 18.37L331.75 19.21L332.60 20.05L333.43 20.91L334.24 21.79L335.04 22.69L335.81 23.60L336.57 24.53L337.31 25.47L338.05 26.42L338.78 27.37L339.50 28.33L340.21 29.29L340.92 30.26L341.63 31.23L342.33 32.20L343.03 33.18L343.73 34.15L344.42 35.13L345.11 36.12L345.79 37.10L346.47 38.09L347.14 39.09L347.80 40.09L348.46 41.09L349.12 42.10L349.77 43.11L350.41 44.12L351.05 45.13L351.68 46.15L352.31 47.17L352.94 48.20L353.56 49.23L354.17 50.26L354.78 51.29L355.38 52.33L355.97 53.37L356.56 54.42L357.16 55.46L357.74 56.51L358.33 57.55L358.92 58.60L359.49 59.65L360.07 60.71L360.63 61.77L361.18 62.83L361.73 63.90L362.27 64.97L362.80 66.05L363.33 67.12L363.86 68.20L364.39 69.27L364.92 70.35L365.45 71.43L365.98 72.51L366.51 73.58L367.04 74.66L367.57 75.74L368.10 76.81L368.62 77.89L369.15 78.97L369.67 80.05L370.18 81.14L370.68 82.23L371.18 83.32L371.67 84.41L372.16 85.51L372.64 86.61L373.12 87.71L373.60 88.81L374.08 89.91L374.56 91.01L375.04 92.11L375.52 93.21L376.00 94.31L376.47 95.41L376.95 96.51L377.43 97.61L377.91 98.71L378.39 99.81L378.86 100.91L379.33 102.02L379.80 103.12L380.27 104.23L380.73 105.33L381.20 106.44L381.66 107.55L382.13 108.65L382.59 109.76L383.06 110.87L383.52 111.97L383.99 113.08L384.45 114.18L384.92 115.29L385.38 116.40L385.85 117.50L386.32 118.61L386.79 119.71L387.26 120.81L387.74 121.91L388.22 123.01L388.70 124.11L389.18 125.21L389.67 126.31L390.16 127.40L390.64 128.50L391.13 129.60L391.62 130.69L392.11 131.79L392.59 132.89L393.08 133.98L393.57 135.08L394.06 136.18L394.55 137.27L395.04 138.37L395.54 139.46L396.04 140.55L396.54 141.64L397.05 142.72L397.57 143.80L398.09 144.89L398.62 145.97L399.14 147.04L399.68 148.12L400.21 149.19L400.76 150.26L401.30 151.33L401.86 152.39L402.41 153.46L402.97 154.52L403.53 155.58L404.09 156.64L404.65 157.70L405.22 158.76L405.79 159.82L406.36 160.87L406.95 161.92L407.54 162.96L408.13 164.00L408.73 165.04L409.34 166.08L409.96 167.10L410.59 168.12L411.25 169.12L411.92 170.11L412.61 171.09L413.32 172.06L414.03 173.02L414.76 173.98L415.49 174.93L416.22 175.87L416.97 176.80L417.74 177.71L418.54 178.57L419.39 179.38L420.29 180.13L421.24 180.80L422.25 181.42L423.28 181.99L424.35 182.53L425.43 183.03L426.53 183.49L427.64 183.92L428.77 184.31L429.91 184.66L431.07 184.98L432.23 185.26L433.39 185.52L434.57 185.74L435.75 185.93L436.93 186.07L438.12 186.19L439.31 186.28L440.50 186.36L441.69 186.42L442.86 186.49L444.02 186.55L445.15 186.61L446.26 186.66L447.00 186.70" class="cb"/>
<path d="M256.60 31.70L256.88 30.53L257.17 29.37L257.45 28.20L257.75 27.04L258.05 25.89L258.39 24.74L258.76 23.62L259.19 22.53L259.69 21.46L260.27 20.43L260.90 19.44L261.60 18.48L262.34 17.55L263.12 16.66L263.95 15.80L264.80 14.97L265.69 14.17L266.60 13.40L267.54 12.65L268.49 11.94L269.47 11.25L270.47 10.60L271.49 9.96L272.52 9.35L273.56 8.77L274.62 8.22L275.70 7.69L276.79 7.20L277.89 6.73L279.00 6.29L280.12 5.87L281.25 5.46L282.38 5.07L283.52 4.71L284.67 4.36L285.82 4.04L286.98 3.75L288.15 3.50L289.32 3.29L290.51 3.13L291.69 3.00L292.88 2.93L294.07 2.91L295.25 2.95L296.43 3.06L297.61 3.23L298.77 3.46L299.94 3.73L301.09 4.04L302.25 4.37L303.40 4.70L304.55 5.04L305.70 5.39L306.84 5.73L307.99 6.08L309.14 6.42L310.29 6.76L311.44 7.11L312.59 7.45L313.74 7.81L314.87 8.18L316.00 8.57L317.11 9.01L318.20 9.49L319.27 10.01L320.32 10.57L321.36 11.17L322.38 11.79L323.39 12.44L324.38 13.11L325.36 13.80L326.32 14.51L327.27 15.24L328.20 15.99L329.12 16.77L330.01 17.56L330.89 18.37L331.75 19.21L332.60 20.05L333.43 20.91L334.24 21.79L335.04 22.69L335.81 23.60L336.57 24.53L337.31 25.47L338.05 26.42L338.78 27.37L339.50 28.33L340.21 29.29L340.92 30.26L341.63 31.23L342.33 32.20L343.03 33.18L343.73 34.15L344.42 35.13L345.11 36.12L345.79 37.10L346.47 38.09L347.14 39.09L347.80 40.09L348.46 41.09L349.12 42.10L349.77 43.11L350.41 44.12L351.05 45.13L351.68 46.15L352.31 47.17L352.94 48.20L353.56 49.23L354.17 50.26L354.78 51.29L355.38 52.33L355.97 53.37L356.56 54.42L357.16 55.46L357.74 56.51L358.33 57.55L358.92 58.60L359.49 59.65L360.07 60.71L360.63 61.77L361.18 62.83L361.73 63.90L362.27 64.97L362.80 66.05L363.33 67.12L363.86 68.20L364.39 69.27L364.92 70.35L365.45 71.43L365.98 72.51L366.51 73.58L367.04 74.66L367.57 75.74L368.10 76.81L368.62 77.89L369.15 78.97L369.67 80.05L370.18 81.14L370.68 82.23L371.18 83.32L371.67 84.41L372.16 85.51L372.64 86.61L373.12 87.71L373.60 88.81L374.08 89.91L374.56 91.01L375.04 92.11L375.52 93.21L376.00 94.31L376.47 95.41L376.95 96.51L377.43 97.61L377.91 98.71L378.39 99.81L378.86 100.91L379.33 102.02L379.80 103.12L380.27 104.23L380.73 105.33L381.20 106.44L381.66 107.55L382.13 108.65L382.59 109.76L383.06 110.87L383.52 111.97L383.99 113.08L384.45 114.18L384.92 115.29L385.38 116.40L385.85 117.50L386.32 118.61L386.79 119.71L387.26 120.81L387.74 121.91L388.22 123.01L388.70 124.11L389.18 125.21L389.67 126.31L390.16 127.40L390.64 128.50L391.13 129.60L391.62 130.69L392.11 131.79L392.59 132.89L393.08 133.98L393.57 135.08L394.06 136.18L394.55 137.27L395.04 138.37L395.54 139.46L396.04 140.55L396.54 141.64L397.05 142.72L397.57 143.80L398.09 144.89L398.62 145.97L399.14 147.04L399.68 148.12L400.21 149.19L400.76 150.26L401.30 151.33L401.86 152.39L402.41 153.46L402.97 154.52L403.53 155.58L404.09 156.64L404.65 157.70L405.22 158.76L405.79 159.82L406.36 160.87L406.95 161.92L407.54 162.96L408.13 164.00L408.73 165.04L409.34 166.08L409.96 167.10L410.59 168.12L411.25 169.12L411.92 170.11L412.61 171.09L413.32 172.06L414.03 173.02L414.76 173.98L415.49 174.93L416.22 175.87L416.97 176.80L417.74 177.71L418.54 178.57L419.39 179.38L420.29 180.13L421.24 180.80L422.25 181.42L423.28 181.99L424.35 182.53L425.43 183.03L426.53 183.49L427.64 183.92L428.77 184.31L429.91 184.66L431.07 184.98L432.23 185.26L433.39 185.52L434.57 185.74L435.75 185.93L436.93 186.07L438.12 186.19L439.31 186.28L440.50 186.36L441.69 186.42L442.86 186.49L444.02 186.55L445.15 186.61L446.26 186.66L447.00 186.70" class="cu"/>
<text x="279.7" y="159.4" class="el" textLength="15.9" lengthAdjust="spacingAndGlyphs">6 MeV-</text>
<text x="326.3" y="159.6" class="el" textLength="18" lengthAdjust="spacingAndGlyphs">12 MeV-</text>
<text x="384.4" y="159.6" class="el" textLength="17.8" lengthAdjust="spacingAndGlyphs">20 MeV-</text>
<rect x="441.66" y="-0" width="20" height="6" fill="#fff"/>
<text x="443.1" y="13.2" class="pl">b</text>
<line x1="22.6" y1="414.5" x2="213.16" y2="414.5" stroke="#eeeeee" stroke-width="1"/>
<line x1="22.6" y1="394.5" x2="213.16" y2="394.5" stroke="#eeeeee" stroke-width="1"/>
<line x1="22.6" y1="374.5" x2="213.16" y2="374.5" stroke="#eeeeee" stroke-width="1"/>
<line x1="22.6" y1="355.5" x2="213.16" y2="355.5" stroke="#eeeeee" stroke-width="1"/>
<line x1="22.6" y1="335.5" x2="213.16" y2="335.5" stroke="#eeeeee" stroke-width="1"/>
<line x1="22.6" y1="315.5" x2="213.16" y2="315.5" stroke="#eeeeee" stroke-width="1"/>
<line x1="22.6" y1="295.5" x2="213.16" y2="295.5" stroke="#eeeeee" stroke-width="1"/>
<line x1="22.6" y1="276.5" x2="213.16" y2="276.5" stroke="#eeeeee" stroke-width="1"/>
<line x1="22.6" y1="256.5" x2="213.16" y2="256.5" stroke="#eeeeee" stroke-width="1"/>
<line x1="22.6" y1="236.5" x2="208.16" y2="236.5" stroke="#eeeeee" stroke-width="1"/>
<line x1="22.5" y1="434.5" x2="213.16" y2="434.5" stroke="#d4d4d4" stroke-width="1"/>
<line x1="22.5" y1="236" x2="22.5" y2="434.5" stroke="#d4d4d4" stroke-width="1"/>
<text x="17.8" y="436.4" class="t" text-anchor="end">0</text>
<text x="17.8" y="416.63" class="t" text-anchor="end">10</text>
<text x="17.8" y="396.86" class="t" text-anchor="end">20</text>
<text x="17.8" y="377.09" class="t" text-anchor="end">30</text>
<text x="17.8" y="357.32" class="t" text-anchor="end">40</text>
<text x="17.8" y="337.55" class="t" text-anchor="end">50</text>
<text x="17.8" y="317.78" class="t" text-anchor="end">60</text>
<text x="17.8" y="298.01" class="t" text-anchor="end">70</text>
<text x="17.8" y="278.24" class="t" text-anchor="end">80</text>
<text x="17.8" y="258.47" class="t" text-anchor="end">90</text>
<text x="17.8" y="238.7" class="t" text-anchor="end">100</text>
<text x="22.6" y="443.8" class="t" text-anchor="middle">0</text>
<text x="54.36" y="443.8" class="t" text-anchor="middle">2</text>
<text x="86.12" y="443.8" class="t" text-anchor="middle">4</text>
<text x="117.88" y="443.8" class="t" text-anchor="middle">6</text>
<text x="149.64" y="443.8" class="t" text-anchor="middle">8</text>
<text x="181.4" y="443.8" class="t" text-anchor="middle">10</text>
<text x="213.16" y="443.8" class="t" text-anchor="middle">12</text>
<text x="117.88" y="453.8" class="at" text-anchor="middle" textLength="29.8" lengthAdjust="spacingAndGlyphs">Depth (cm)</text>
<text transform="translate(4.9 335.35) rotate(-90)" class="at" text-anchor="middle" textLength="34.9" lengthAdjust="spacingAndGlyphs">Percent Dose</text>
<line x1="166" y1="272.4" x2="182" y2="272.4" stroke="#4f81bd" stroke-width="1.2"/>
<line x1="166" y1="290.3" x2="182" y2="290.3" stroke="#c8404a" stroke-width="1.2" stroke-dasharray="2.4 1.9"/>
<text x="184" y="274.5" class="lg" textLength="25" lengthAdjust="spacingAndGlyphs">Cerrobend</text>
<text x="184" y="292.9" class="lg" textLength="17" lengthAdjust="spacingAndGlyphs">Copper</text>
<path d="M22.40 290.20L22.80 289.07L23.20 287.94L23.60 286.81L24.00 285.67L24.40 284.54L24.80 283.41L25.21 282.28L25.61 281.15L26.01 280.02L26.42 278.89L26.82 277.76L27.22 276.63L27.63 275.50L28.03 274.37L28.43 273.24L28.83 272.11L29.23 270.98L29.63 269.84L30.02 268.71L30.41 267.58L30.81 266.44L31.20 265.31L31.58 264.17L31.97 263.04L32.35 261.90L32.73 260.76L33.11 259.62L33.49 258.48L33.87 257.34L34.25 256.21L34.63 255.07L35.01 253.93L35.40 252.80L35.79 251.66L36.18 250.53L36.58 249.40L36.98 248.27L37.39 247.14L37.81 246.01L38.23 244.89L38.67 243.78L39.14 242.68L39.63 241.60L40.14 240.51L40.69 239.44L41.33 238.43L42.11 237.55L43.07 237.03L44.08 237.24L44.98 237.96L45.70 238.90L46.23 239.97L46.53 241.12L46.79 242.28L47.04 243.44L47.29 244.60L47.52 245.78L47.75 246.95L47.97 248.13L48.19 249.31L48.40 250.49L48.60 251.68L48.81 252.86L49.01 254.04L49.21 255.22L49.41 256.41L49.61 257.59L49.80 258.77L49.99 259.96L50.18 261.15L50.36 262.33L50.54 263.52L50.71 264.70L50.89 265.89L51.06 267.08L51.23 268.27L51.39 269.46L51.56 270.65L51.72 271.83L51.88 273.02L52.04 274.21L52.19 275.40L52.35 276.59L52.50 277.78L52.64 278.97L52.79 280.17L52.93 281.36L53.08 282.55L53.21 283.74L53.35 284.93L53.48 286.13L53.62 287.32L53.75 288.51L53.88 289.70L54.01 290.90L54.14 292.09L54.27 293.28L54.39 294.48L54.52 295.67L54.64 296.86L54.75 298.06L54.87 299.25L54.98 300.45L55.10 301.64L55.21 302.84L55.32 304.03L55.43 305.23L55.55 306.42L55.66 307.61L55.77 308.81L55.88 310.00L55.99 311.20L56.10 312.39L56.21 313.59L56.32 314.78L56.43 315.98L56.53 317.17L56.64 318.37L56.74 319.57L56.84 320.76L56.94 321.96L57.05 323.15L57.15 324.35L57.25 325.54L57.35 326.74L57.45 327.94L57.55 329.13L57.65 330.33L57.75 331.52L57.86 332.72L57.96 333.91L58.06 335.11L58.16 336.31L58.26 337.50L58.37 338.70L58.47 339.89L58.58 341.09L58.68 342.28L58.78 343.48L58.89 344.67L58.99 345.87L59.09 347.07L59.20 348.26L59.30 349.46L59.41 350.65L59.51 351.85L59.62 353.04L59.73 354.24L59.84 355.43L59.95 356.63L60.06 357.82L60.18 359.02L60.30 360.21L60.42 361.40L60.54 362.60L60.65 363.79L60.77 364.99L60.89 366.18L61.01 367.37L61.13 368.57L61.25 369.76L61.37 370.96L61.50 372.15L61.62 373.34L61.75 374.54L61.89 375.73L62.03 376.92L62.17 378.11L62.31 379.30L62.46 380.49L62.61 381.68L62.76 382.88L62.90 384.07L63.05 385.26L63.20 386.45L63.35 387.64L63.49 388.83L63.64 390.02L63.79 391.21L63.95 392.40L64.10 393.59L64.26 394.78L64.43 395.97L64.60 397.16L64.77 398.34L64.95 399.53L65.13 400.72L65.32 401.90L65.51 403.09L65.70 404.27L65.90 405.45L66.09 406.64L66.29 407.82L66.49 409.01L66.68 410.19L66.88 411.37L67.08 412.56L67.29 413.74L67.50 414.92L67.72 416.10L67.94 417.28L68.17 418.45L68.42 419.63L68.69 420.79L68.99 421.94L69.34 423.08L69.70 424.21L70.14 425.32L70.62 426.41L71.12 427.49L71.67 428.55L72.32 429.57L73.05 430.50L73.95 431.26L74.99 431.81L76.14 432.10L77.33 432.28L78.52 432.39L79.72 432.39L80.92 432.41L82.12 432.43L83.32 432.44L84.52 432.46L85.72 432.47L86.92 432.48L88.12 432.49L89.32 432.50L90.52 432.51L91.72 432.52L92.92 432.54L94.12 432.55L95.32 432.56L96.52 432.57L97.72 432.58L98.92 432.59L100.12 432.60L101.32 432.61L102.52 432.61L103.72 432.62L104.92 432.63L106.12 432.64L107.32 432.64L108.52 432.65L109.72 432.66L110.92 432.67L112.12 432.67L113.32 432.68L114.52 432.69L115.72 432.69L116.92 432.70L118.12 432.71L119.32 432.72L120.52 432.72L121.72 432.73L122.92 432.74L124.12 432.75L125.32 432.75L126.52 432.76L127.72 432.77L128.92 432.77L130.12 432.78L131.32 432.79L132.52 432.80L133.72 432.80L134.92 432.81L136.12 432.82L137.32 432.83L138.52 432.83L139.72 432.84L140.92 432.85L142.12 432.85L143.32 432.86L144.52 432.87L145.71 432.88L146.91 432.88L148.11 432.89L149.30 432.90L149.70 432.90" class="cb"/>
<path d="M22.40 290.20L22.80 289.07L23.20 287.94L23.60 286.81L24.00 285.67L24.40 284.54L24.80 283.41L25.21 282.28L25.61 281.15L26.01 280.02L26.42 278.89L26.82 277.76L27.22 276.63L27.63 275.50L28.03 274.37L28.43 273.24L28.83 272.11L29.23 270.98L29.63 269.84L30.02 268.71L30.41 267.58L30.81 266.44L31.20 265.31L31.58 264.17L31.97 263.04L32.35 261.90L32.73 260.76L33.11 259.62L33.49 258.48L33.87 257.34L34.25 256.21L34.63 255.07L35.01 253.93L35.40 252.80L35.79 251.66L36.18 250.53L36.58 249.40L36.98 248.27L37.39 247.14L37.81 246.01L38.23 244.89L38.67 243.78L39.14 242.68L39.63 241.60L40.14 240.51L40.69 239.44L41.33 238.43L42.11 237.55L43.07 237.03L44.08 237.24L44.98 237.96L45.70 238.90L46.23 239.97L46.53 241.12L46.79 242.28L47.04 243.44L47.29 244.60L47.52 245.78L47.75 246.95L47.97 248.13L48.19 249.31L48.40 250.49L48.60 251.68L48.81 252.86L49.01 254.04L49.21 255.22L49.41 256.41L49.61 257.59L49.80 258.77L49.99 259.96L50.18 261.15L50.36 262.33L50.54 263.52L50.71 264.70L50.89 265.89L51.06 267.08L51.23 268.27L51.39 269.46L51.56 270.65L51.72 271.83L51.88 273.02L52.04 274.21L52.19 275.40L52.35 276.59L52.50 277.78L52.64 278.97L52.79 280.17L52.93 281.36L53.08 282.55L53.21 283.74L53.35 284.93L53.48 286.13L53.62 287.32L53.75 288.51L53.88 289.70L54.01 290.90L54.14 292.09L54.27 293.28L54.39 294.48L54.52 295.67L54.64 296.86L54.75 298.06L54.87 299.25L54.98 300.45L55.10 301.64L55.21 302.84L55.32 304.03L55.43 305.23L55.55 306.42L55.66 307.61L55.77 308.81L55.88 310.00L55.99 311.20L56.10 312.39L56.21 313.59L56.32 314.78L56.43 315.98L56.53 317.17L56.64 318.37L56.74 319.57L56.84 320.76L56.94 321.96L57.05 323.15L57.15 324.35L57.25 325.54L57.35 326.74L57.45 327.94L57.55 329.13L57.65 330.33L57.75 331.52L57.86 332.72L57.96 333.91L58.06 335.11L58.16 336.31L58.26 337.50L58.37 338.70L58.47 339.89L58.58 341.09L58.68 342.28L58.78 343.48L58.89 344.67L58.99 345.87L59.09 347.07L59.20 348.26L59.30 349.46L59.41 350.65L59.51 351.85L59.62 353.04L59.73 354.24L59.84 355.43L59.95 356.63L60.06 357.82L60.18 359.02L60.30 360.21L60.42 361.40L60.54 362.60L60.65 363.79L60.77 364.99L60.89 366.18L61.01 367.37L61.13 368.57L61.25 369.76L61.37 370.96L61.50 372.15L61.62 373.34L61.75 374.54L61.89 375.73L62.03 376.92L62.17 378.11L62.31 379.30L62.46 380.49L62.61 381.68L62.76 382.88L62.90 384.07L63.05 385.26L63.20 386.45L63.35 387.64L63.49 388.83L63.64 390.02L63.79 391.21L63.95 392.40L64.10 393.59L64.26 394.78L64.43 395.97L64.60 397.16L64.77 398.34L64.95 399.53L65.13 400.72L65.32 401.90L65.51 403.09L65.70 404.27L65.90 405.45L66.09 406.64L66.29 407.82L66.49 409.01L66.68 410.19L66.88 411.37L67.08 412.56L67.29 413.74L67.50 414.92L67.72 416.10L67.94 417.28L68.17 418.45L68.42 419.63L68.69 420.79L68.99 421.94L69.34 423.08L69.70 424.21L70.14 425.32L70.62 426.41L71.12 427.49L71.67 428.55L72.32 429.57L73.05 430.50L73.95 431.26L74.99 431.81L76.14 432.10L77.33 432.28L78.52 432.39L79.72 432.39L80.92 432.41L82.12 432.43L83.32 432.44L84.52 432.46L85.72 432.47L86.92 432.48L88.12 432.49L89.32 432.50L90.52 432.51L91.72 432.52L92.92 432.54L94.12 432.55L95.32 432.56L96.52 432.57L97.72 432.58L98.92 432.59L100.12 432.60L101.32 432.61L102.52 432.61L103.72 432.62L104.92 432.63L106.12 432.64L107.32 432.64L108.52 432.65L109.72 432.66L110.92 432.67L112.12 432.67L113.32 432.68L114.52 432.69L115.72 432.69L116.92 432.70L118.12 432.71L119.32 432.72L120.52 432.72L121.72 432.73L122.92 432.74L124.12 432.75L125.32 432.75L126.52 432.76L127.72 432.77L128.92 432.77L130.12 432.78L131.32 432.79L132.52 432.80L133.72 432.80L134.92 432.81L136.12 432.82L137.32 432.83L138.52 432.83L139.72 432.84L140.92 432.85L142.12 432.85L143.32 432.86L144.52 432.87L145.71 432.88L146.91 432.88L148.11 432.89L149.30 432.90L149.70 432.90" class="cu"/>
<path d="M22.60 259.30L22.81 258.12L23.02 256.94L23.22 255.76L23.43 254.57L23.63 253.39L23.85 252.21L24.17 251.07L24.67 249.98L25.22 248.92L25.78 247.86L26.45 246.87L27.22 245.96L28.02 245.07L28.85 244.23L29.74 243.45L30.67 242.73L31.64 242.05L32.64 241.42L33.68 240.84L34.74 240.30L35.83 239.79L36.92 239.32L38.03 238.88L39.16 238.48L40.29 238.13L41.44 237.83L42.60 237.61L43.77 237.44L44.95 237.33L46.14 237.26L47.34 237.22L48.53 237.19L49.73 237.16L50.93 237.14L52.13 237.13L53.33 237.11L54.53 237.09L55.73 237.08L56.93 237.07L58.13 237.06L59.33 237.05L60.53 237.05L61.73 237.04L62.93 237.05L64.13 237.07L65.33 237.11L66.53 237.16L67.72 237.23L68.91 237.33L70.10 237.45L71.27 237.61L72.41 237.84L73.52 238.16L74.58 238.58L75.58 239.13L76.51 239.79L77.36 240.56L78.13 241.42L78.84 242.35L79.48 243.34L80.08 244.37L80.64 245.41L81.20 246.47L81.75 247.54L82.31 248.60L82.87 249.65L83.43 250.71L83.96 251.78L84.47 252.86L84.94 253.95L85.38 255.06L85.77 256.19L86.14 257.33L86.49 258.47L86.83 259.62L87.16 260.78L87.49 261.93L87.82 263.08L88.14 264.24L88.47 265.39L88.79 266.55L89.10 267.71L89.41 268.87L89.72 270.03L90.02 271.19L90.32 272.35L90.62 273.51L90.91 274.68L91.20 275.84L91.48 277.01L91.76 278.18L92.03 279.35L92.30 280.51L92.56 281.68L92.83 282.85L93.10 284.03L93.36 285.20L93.63 286.37L93.89 287.54L94.15 288.71L94.42 289.88L94.68 291.05L94.95 292.22L95.21 293.39L95.46 294.56L95.71 295.74L95.96 296.91L96.20 298.09L96.43 299.26L96.66 300.44L96.89 301.62L97.12 302.80L97.35 303.97L97.58 305.15L97.81 306.33L98.04 307.51L98.27 308.69L98.49 309.86L98.72 311.04L98.95 312.22L99.17 313.40L99.40 314.58L99.62 315.76L99.83 316.94L100.05 318.12L100.26 319.30L100.47 320.48L100.68 321.66L100.88 322.85L101.09 324.03L101.30 325.21L101.51 326.39L101.71 327.57L101.92 328.75L102.13 329.94L102.34 331.12L102.54 332.30L102.75 333.48L102.96 334.66L103.16 335.85L103.37 337.03L103.57 338.21L103.78 339.39L103.98 340.58L104.18 341.76L104.39 342.94L104.59 344.13L104.79 345.31L105.00 346.49L105.20 347.67L105.40 348.86L105.60 350.04L105.81 351.22L106.01 352.40L106.22 353.59L106.42 354.77L106.63 355.95L106.84 357.13L107.05 358.31L107.26 359.49L107.47 360.68L107.69 361.86L107.90 363.04L108.11 364.22L108.32 365.40L108.54 366.58L108.75 367.76L108.97 368.94L109.18 370.12L109.40 371.30L109.63 372.48L109.85 373.66L110.08 374.84L110.32 376.01L110.55 377.19L110.79 378.37L111.03 379.54L111.27 380.72L111.52 381.89L111.76 383.07L112.00 384.24L112.24 385.42L112.49 386.59L112.73 387.77L112.97 388.94L113.22 390.12L113.46 391.29L113.71 392.47L113.97 393.64L114.23 394.81L114.50 395.98L114.77 397.15L115.05 398.31L115.33 399.48L115.61 400.65L115.90 401.81L116.19 402.98L116.47 404.14L116.76 405.31L117.04 406.47L117.33 407.64L117.62 408.80L117.91 409.97L118.22 411.12L118.54 412.28L118.90 413.42L119.29 414.54L119.72 415.66L120.18 416.76L120.68 417.84L121.21 418.91L121.76 419.97L122.31 421.03L122.96 422.03L123.70 422.97L124.47 423.88L125.26 424.79L126.07 425.67L127.00 426.38L128.06 426.95L129.13 427.49L130.24 427.89L131.42 428.06L132.61 428.19L133.80 428.31L134.99 428.40L136.18 428.47L137.38 428.53L138.58 428.57L139.78 428.61L140.97 428.64L142.17 428.67L143.37 428.70L144.57 428.73L145.77 428.76L146.97 428.79L148.17 428.82L149.37 428.85L150.57 428.88L151.77 428.91L152.97 428.94L154.17 428.97L155.37 428.99L156.57 429.02L157.77 429.05L158.97 429.08L160.17 429.11L161.37 429.14L162.57 429.17L163.77 429.20L164.97 429.23L166.17 429.26L167.37 429.29L168.57 429.32L169.77 429.34L170.97 429.37L172.17 429.40L173.37 429.43L174.56 429.46L175.76 429.49L176.96 429.52L178.16 429.55L179.36 429.58L180.56 429.61L181.76 429.64L182.96 429.67L184.16 429.69L185.36 429.72L186.56 429.75L187.76 429.78L188.96 429.81L190.16 429.84L191.36 429.87L192.56 429.90L193.76 429.93L194.96 429.96L196.16 429.99L197.36 430.02L198.56 430.04L199.76 430.07L200.96 430.10L202.16 430.13L203.36 430.16L204.56 430.19L205.75 430.22L206.95 430.25L208.14 430.28L209.33 430.31L210.50 430.33L211.66 430.36L212.82 430.39L213.20 430.40" class="cb"/>
<path d="M22.60 259.30L22.81 258.12L23.02 256.94L23.22 255.76L23.43 254.57L23.63 253.39L23.85 252.21L24.17 251.07L24.67 249.98L25.22 248.92L25.78 247.86L26.45 246.87L27.22 245.96L28.02 245.07L28.85 244.23L29.74 243.45L30.67 242.73L31.64 242.05L32.64 241.42L33.68 240.84L34.74 240.30L35.83 239.79L36.92 239.32L38.03 238.88L39.16 238.48L40.29 238.13L41.44 237.83L42.60 237.61L43.77 237.44L44.95 237.33L46.14 237.26L47.34 237.22L48.53 237.19L49.73 237.16L50.93 237.14L52.13 237.13L53.33 237.11L54.53 237.09L55.73 237.08L56.93 237.07L58.13 237.06L59.33 237.05L60.53 237.05L61.73 237.04L62.93 237.05L64.13 237.07L65.33 237.11L66.53 237.16L67.72 237.23L68.91 237.33L70.10 237.45L71.27 237.61L72.41 237.84L73.52 238.16L74.58 238.58L75.58 239.13L76.51 239.79L77.36 240.56L78.13 241.42L78.84 242.35L79.48 243.34L80.08 244.37L80.64 245.41L81.20 246.47L81.75 247.54L82.31 248.60L82.87 249.65L83.43 250.71L83.96 251.78L84.47 252.86L84.94 253.95L85.38 255.06L85.77 256.19L86.14 257.33L86.49 258.47L86.83 259.62L87.16 260.78L87.49 261.93L87.82 263.08L88.14 264.24L88.47 265.39L88.79 266.55L89.10 267.71L89.41 268.87L89.72 270.03L90.02 271.19L90.32 272.35L90.62 273.51L90.91 274.68L91.20 275.84L91.48 277.01L91.76 278.18L92.03 279.35L92.30 280.51L92.56 281.68L92.83 282.85L93.10 284.03L93.36 285.20L93.63 286.37L93.89 287.54L94.15 288.71L94.42 289.88L94.68 291.05L94.95 292.22L95.21 293.39L95.46 294.56L95.71 295.74L95.96 296.91L96.20 298.09L96.43 299.26L96.66 300.44L96.89 301.62L97.12 302.80L97.35 303.97L97.58 305.15L97.81 306.33L98.04 307.51L98.27 308.69L98.49 309.86L98.72 311.04L98.95 312.22L99.17 313.40L99.40 314.58L99.62 315.76L99.83 316.94L100.05 318.12L100.26 319.30L100.47 320.48L100.68 321.66L100.88 322.85L101.09 324.03L101.30 325.21L101.51 326.39L101.71 327.57L101.92 328.75L102.13 329.94L102.34 331.12L102.54 332.30L102.75 333.48L102.96 334.66L103.16 335.85L103.37 337.03L103.57 338.21L103.78 339.39L103.98 340.58L104.18 341.76L104.39 342.94L104.59 344.13L104.79 345.31L105.00 346.49L105.20 347.67L105.40 348.86L105.60 350.04L105.81 351.22L106.01 352.40L106.22 353.59L106.42 354.77L106.63 355.95L106.84 357.13L107.05 358.31L107.26 359.49L107.47 360.68L107.69 361.86L107.90 363.04L108.11 364.22L108.32 365.40L108.54 366.58L108.75 367.76L108.97 368.94L109.18 370.12L109.40 371.30L109.63 372.48L109.85 373.66L110.08 374.84L110.32 376.01L110.55 377.19L110.79 378.37L111.03 379.54L111.27 380.72L111.52 381.89L111.76 383.07L112.00 384.24L112.24 385.42L112.49 386.59L112.73 387.77L112.97 388.94L113.22 390.12L113.46 391.29L113.71 392.47L113.97 393.64L114.23 394.81L114.50 395.98L114.77 397.15L115.05 398.31L115.33 399.48L115.61 400.65L115.90 401.81L116.19 402.98L116.47 404.14L116.76 405.31L117.04 406.47L117.33 407.64L117.62 408.80L117.91 409.97L118.22 411.12L118.54 412.28L118.90 413.42L119.29 414.54L119.72 415.66L120.18 416.76L120.68 417.84L121.21 418.91L121.76 419.97L122.31 421.03L122.96 422.03L123.70 422.97L124.47 423.88L125.26 424.79L126.07 425.67L127.00 426.38L128.06 426.95L129.13 427.49L130.24 427.89L131.42 428.06L132.61 428.19L133.80 428.31L134.99 428.40L136.18 428.47L137.38 428.53L138.58 428.57L139.78 428.61L140.97 428.64L142.17 428.67L143.37 428.70L144.57 428.73L145.77 428.76L146.97 428.79L148.17 428.82L149.37 428.85L150.57 428.88L151.77 428.91L152.97 428.94L154.17 428.97L155.37 428.99L156.57 429.02L157.77 429.05L158.97 429.08L160.17 429.11L161.37 429.14L162.57 429.17L163.77 429.20L164.97 429.23L166.17 429.26L167.37 429.29L168.57 429.32L169.77 429.34L170.97 429.37L172.17 429.40L173.37 429.43L174.56 429.46L175.76 429.49L176.96 429.52L178.16 429.55L179.36 429.58L180.56 429.61L181.76 429.64L182.96 429.67L184.16 429.69L185.36 429.72L186.56 429.75L187.76 429.78L188.96 429.81L190.16 429.84L191.36 429.87L192.56 429.90L193.76 429.93L194.96 429.96L196.16 429.99L197.36 430.02L198.56 430.04L199.76 430.07L200.96 430.10L202.16 430.13L203.36 430.16L204.56 430.19L205.75 430.22L206.95 430.25L208.14 430.28L209.33 430.31L210.50 430.33L211.66 430.36L212.82 430.39L213.20 430.40" class="cu"/>
<path d="M22.60 269.80L22.96 268.66L23.33 267.52L23.72 266.40L24.16 265.31L24.66 264.24L25.23 263.21L25.87 262.22L26.57 261.27L27.32 260.35L28.11 259.47L28.94 258.61L29.81 257.80L30.71 257.01L31.64 256.26L32.59 255.54L33.56 254.84L34.55 254.17L35.56 253.53L36.59 252.91L37.63 252.32L38.68 251.74L39.73 251.17L40.78 250.60L41.83 250.02L42.87 249.42L43.89 248.80L44.91 248.17L45.91 247.52L46.92 246.86L47.92 246.21L48.94 245.58L49.97 244.96L51.01 244.37L52.06 243.81L53.13 243.26L54.21 242.74L55.30 242.24L56.39 241.75L57.50 241.28L58.60 240.83L59.72 240.38L60.84 239.95L61.96 239.53L63.09 239.13L64.22 238.76L65.37 238.42L66.52 238.12L67.69 237.88L68.86 237.69L70.04 237.57L71.22 237.51L72.41 237.51L73.60 237.57L74.79 237.66L75.98 237.78L77.17 237.91L78.36 238.06L79.55 238.21L80.74 238.36L81.93 238.52L83.12 238.69L84.30 238.88L85.48 239.09L86.65 239.33L87.82 239.59L88.98 239.89L90.13 240.20L91.29 240.53L92.44 240.86L93.59 241.20L94.74 241.54L95.89 241.89L97.04 242.23L98.19 242.58L99.33 242.94L100.47 243.30L101.60 243.69L102.72 244.11L103.82 244.56L104.91 245.05L105.97 245.59L107.02 246.16L108.06 246.76L109.08 247.38L110.09 248.02L111.08 248.68L112.03 249.39L112.96 250.13L113.85 250.92L114.71 251.74L115.54 252.60L116.35 253.47L117.16 254.36L117.96 255.25L118.76 256.15L119.55 257.05L120.32 257.96L121.09 258.89L121.84 259.82L122.57 260.77L123.28 261.73L123.98 262.71L124.68 263.68L125.37 264.66L126.06 265.64L126.75 266.63L127.44 267.61L128.12 268.59L128.81 269.58L129.48 270.57L130.15 271.57L130.80 272.58L131.43 273.59L132.06 274.62L132.67 275.65L133.27 276.69L133.87 277.73L134.47 278.77L135.06 279.81L135.66 280.85L136.25 281.89L136.83 282.94L137.41 283.99L137.98 285.05L138.54 286.11L139.09 287.18L139.63 288.25L140.15 289.33L140.67 290.41L141.18 291.50L141.68 292.59L142.17 293.68L142.65 294.78L143.12 295.88L143.57 296.99L144.02 298.11L144.45 299.23L144.88 300.35L145.31 301.47L145.74 302.59L146.17 303.71L146.59 304.83L147.02 305.95L147.44 307.07L147.87 308.20L148.30 309.32L148.72 310.44L149.14 311.56L149.56 312.69L149.97 313.82L150.37 314.95L150.76 316.08L151.14 317.22L151.51 318.36L151.87 319.51L152.22 320.65L152.57 321.80L152.92 322.95L153.27 324.10L153.61 325.24L153.96 326.39L154.31 327.54L154.66 328.69L155.01 329.84L155.35 330.99L155.70 332.14L156.04 333.28L156.39 334.44L156.73 335.59L157.06 336.74L157.39 337.89L157.73 339.04L158.05 340.20L158.38 341.35L158.71 342.51L159.04 343.66L159.37 344.82L159.69 345.97L160.02 347.12L160.35 348.28L160.68 349.43L161.00 350.59L161.33 351.74L161.66 352.90L161.99 354.05L162.33 355.20L162.67 356.35L163.01 357.50L163.36 358.65L163.71 359.80L164.07 360.94L164.43 362.09L164.80 363.23L165.17 364.37L165.54 365.51L165.92 366.65L166.29 367.79L166.67 368.93L167.04 370.07L167.42 371.21L167.80 372.35L168.18 373.49L168.57 374.62L168.97 375.75L169.38 376.88L169.79 378.01L170.21 379.13L170.64 380.25L171.07 381.37L171.52 382.48L171.97 383.60L172.43 384.70L172.90 385.81L173.37 386.91L173.85 388.01L174.33 389.11L174.82 390.20L175.31 391.30L175.81 392.39L176.31 393.48L176.82 394.57L177.34 395.65L177.87 396.73L178.40 397.80L178.94 398.87L179.49 399.94L180.05 401.00L180.61 402.06L181.18 403.11L181.77 404.16L182.36 405.21L182.96 406.24L183.58 407.27L184.21 408.28L184.87 409.28L185.56 410.26L186.28 411.21L187.03 412.13L187.82 413.02L188.66 413.85L189.54 414.64L190.47 415.37L191.44 416.04L192.46 416.65L193.51 417.20L194.59 417.70L195.69 418.14L196.81 418.53L197.95 418.87L199.11 419.15L200.28 419.39L201.45 419.59L202.64 419.76L203.83 419.90L205.02 420.02L206.21 420.12L207.40 420.20L208.59 420.27L209.76 420.34L210.92 420.39L212.06 420.45L213.20 420.50L213.20 420.50" class="cb"/>
<path d="M22.60 269.80L22.96 268.66L23.33 267.52L23.72 266.40L24.16 265.31L24.66 264.24L25.23 263.21L25.87 262.22L26.57 261.27L27.32 260.35L28.11 259.47L28.94 258.61L29.81 257.80L30.71 257.01L31.64 256.26L32.59 255.54L33.56 254.84L34.55 254.17L35.56 253.53L36.59 252.91L37.63 252.32L38.68 251.74L39.73 251.17L40.78 250.60L41.83 250.02L42.87 249.42L43.89 248.80L44.91 248.17L45.91 247.52L46.92 246.86L47.92 246.21L48.94 245.58L49.97 244.96L51.01 244.37L52.06 243.81L53.13 243.26L54.21 242.74L55.30 242.24L56.39 241.75L57.50 241.28L58.60 240.83L59.72 240.38L60.84 239.95L61.96 239.53L63.09 239.13L64.22 238.76L65.37 238.42L66.52 238.12L67.69 237.88L68.86 237.69L70.04 237.57L71.22 237.51L72.41 237.51L73.60 237.57L74.79 237.66L75.98 237.78L77.17 237.91L78.36 238.06L79.55 238.21L80.74 238.36L81.93 238.52L83.12 238.69L84.30 238.88L85.48 239.09L86.65 239.33L87.82 239.59L88.98 239.89L90.13 240.20L91.29 240.53L92.44 240.86L93.59 241.20L94.74 241.54L95.89 241.89L97.04 242.23L98.19 242.58L99.33 242.94L100.47 243.30L101.60 243.69L102.72 244.11L103.82 244.56L104.91 245.05L105.97 245.59L107.02 246.16L108.06 246.76L109.08 247.38L110.09 248.02L111.08 248.68L112.03 249.39L112.96 250.13L113.85 250.92L114.71 251.74L115.54 252.60L116.35 253.47L117.16 254.36L117.96 255.25L118.76 256.15L119.55 257.05L120.32 257.96L121.09 258.89L121.84 259.82L122.57 260.77L123.28 261.73L123.98 262.71L124.68 263.68L125.37 264.66L126.06 265.64L126.75 266.63L127.44 267.61L128.12 268.59L128.81 269.58L129.48 270.57L130.15 271.57L130.80 272.58L131.43 273.59L132.06 274.62L132.67 275.65L133.27 276.69L133.87 277.73L134.47 278.77L135.06 279.81L135.66 280.85L136.25 281.89L136.83 282.94L137.41 283.99L137.98 285.05L138.54 286.11L139.09 287.18L139.63 288.25L140.15 289.33L140.67 290.41L141.18 291.50L141.68 292.59L142.17 293.68L142.65 294.78L143.12 295.88L143.57 296.99L144.02 298.11L144.45 299.23L144.88 300.35L145.31 301.47L145.74 302.59L146.17 303.71L146.59 304.83L147.02 305.95L147.44 307.07L147.87 308.20L148.30 309.32L148.72 310.44L149.14 311.56L149.56 312.69L149.97 313.82L150.37 314.95L150.76 316.08L151.14 317.22L151.51 318.36L151.87 319.51L152.22 320.65L152.57 321.80L152.92 322.95L153.27 324.10L153.61 325.24L153.96 326.39L154.31 327.54L154.66 328.69L155.01 329.84L155.35 330.99L155.70 332.14L156.04 333.28L156.39 334.44L156.73 335.59L157.06 336.74L157.39 337.89L157.73 339.04L158.05 340.20L158.38 341.35L158.71 342.51L159.04 343.66L159.37 344.82L159.69 345.97L160.02 347.12L160.35 348.28L160.68 349.43L161.00 350.59L161.33 351.74L161.66 352.90L161.99 354.05L162.33 355.20L162.67 356.35L163.01 357.50L163.36 358.65L163.71 359.80L164.07 360.94L164.43 362.09L164.80 363.23L165.17 364.37L165.54 365.51L165.92 366.65L166.29 367.79L166.67 368.93L167.04 370.07L167.42 371.21L167.80 372.35L168.18 373.49L168.57 374.62L168.97 375.75L169.38 376.88L169.79 378.01L170.21 379.13L170.64 380.25L171.07 381.37L171.52 382.48L171.97 383.60L172.43 384.70L172.90 385.81L173.37 386.91L173.85 388.01L174.33 389.11L174.82 390.20L175.31 391.30L175.81 392.39L176.31 393.48L176.82 394.57L177.34 395.65L177.87 396.73L178.40 397.80L178.94 398.87L179.49 399.94L180.05 401.00L180.61 402.06L181.18 403.11L181.77 404.16L182.36 405.21L182.96 406.24L183.58 407.27L184.21 408.28L184.87 409.28L185.56 410.26L186.28 411.21L187.03 412.13L187.82 413.02L188.66 413.85L189.54 414.64L190.47 415.37L191.44 416.04L192.46 416.65L193.51 417.20L194.59 417.70L195.69 418.14L196.81 418.53L197.95 418.87L199.11 419.15L200.28 419.39L201.45 419.59L202.64 419.76L203.83 419.90L205.02 420.02L206.21 420.12L207.40 420.20L208.59 420.27L209.76 420.34L210.92 420.39L212.06 420.45L213.20 420.50L213.20 420.50" class="cu"/>
<text x="45.8" y="392.9" class="el" textLength="17.2" lengthAdjust="spacingAndGlyphs">6 MeV-</text>
<text x="92.8" y="392.9" class="el" textLength="17.4" lengthAdjust="spacingAndGlyphs">12 MeV-</text>
<text x="154.4" y="392.7" class="el" textLength="17.6" lengthAdjust="spacingAndGlyphs">20 MeV-</text>
<rect x="207.96" y="234" width="20" height="6" fill="#fff"/>
<text x="211" y="246.9" class="pl">c</text>
<line x1="256.3" y1="414.5" x2="446.86" y2="414.5" stroke="#eeeeee" stroke-width="1"/>
<line x1="256.3" y1="394.5" x2="446.86" y2="394.5" stroke="#eeeeee" stroke-width="1"/>
<line x1="256.3" y1="374.5" x2="446.86" y2="374.5" stroke="#eeeeee" stroke-width="1"/>
<line x1="256.3" y1="355.5" x2="446.86" y2="355.5" stroke="#eeeeee" stroke-width="1"/>
<line x1="256.3" y1="335.5" x2="446.86" y2="335.5" stroke="#eeeeee" stroke-width="1"/>
<line x1="256.3" y1="315.5" x2="446.86" y2="315.5" stroke="#eeeeee" stroke-width="1"/>
<line x1="256.3" y1="295.5" x2="446.86" y2="295.5" stroke="#eeeeee" stroke-width="1"/>
<line x1="256.3" y1="276.5" x2="446.86" y2="276.5" stroke="#eeeeee" stroke-width="1"/>
<line x1="256.3" y1="256.5" x2="446.86" y2="256.5" stroke="#eeeeee" stroke-width="1"/>
<line x1="256.3" y1="236.5" x2="441.86" y2="236.5" stroke="#eeeeee" stroke-width="1"/>
<line x1="256.5" y1="434.5" x2="446.86" y2="434.5" stroke="#d4d4d4" stroke-width="1"/>
<line x1="256.5" y1="236" x2="256.5" y2="434.5" stroke="#d4d4d4" stroke-width="1"/>
<text x="251.5" y="436.4" class="t" text-anchor="end">0</text>
<text x="251.5" y="416.63" class="t" text-anchor="end">10</text>
<text x="251.5" y="396.86" class="t" text-anchor="end">20</text>
<text x="251.5" y="377.09" class="t" text-anchor="end">30</text>
<text x="251.5" y="357.32" class="t" text-anchor="end">40</text>
<text x="251.5" y="337.55" class="t" text-anchor="end">50</text>
<text x="251.5" y="317.78" class="t" text-anchor="end">60</text>
<text x="251.5" y="298.01" class="t" text-anchor="end">70</text>
<text x="251.5" y="278.24" class="t" text-anchor="end">80</text>
<text x="251.5" y="258.47" class="t" text-anchor="end">90</text>
<text x="251.5" y="238.7" class="t" text-anchor="end">100</text>
<text x="256.3" y="443.8" class="t" text-anchor="middle">0</text>
<text x="288.06" y="443.8" class="t" text-anchor="middle">2</text>
<text x="319.82" y="443.8" class="t" text-anchor="middle">4</text>
<text x="351.58" y="443.8" class="t" text-anchor="middle">6</text>
<text x="383.34" y="443.8" class="t" text-anchor="middle">8</text>
<text x="415.1" y="443.8" class="t" text-anchor="middle">10</text>
<text x="446.86" y="443.8" class="t" text-anchor="middle">12</text>
<text x="351.58" y="453.8" class="at" text-anchor="middle" textLength="29.8" lengthAdjust="spacingAndGlyphs">Depth (cm)</text>
<text transform="translate(238.6 335.35) rotate(-90)" class="at" text-anchor="middle" textLength="34.9" lengthAdjust="spacingAndGlyphs">Percent Dose</text>
<line x1="399.7" y1="272.4" x2="415.7" y2="272.4" stroke="#4f81bd" stroke-width="1.2"/>
<line x1="399.7" y1="290.3" x2="415.7" y2="290.3" stroke="#c8404a" stroke-width="1.2" stroke-dasharray="2.4 1.9"/>
<text x="417.7" y="274.5" class="lg" textLength="25" lengthAdjust="spacingAndGlyphs">Cerrobend</text>
<text x="417.7" y="292.9" class="lg" textLength="17" lengthAdjust="spacingAndGlyphs">Copper</text>
<path d="M256.80 290.20L257.20 289.07L257.60 287.94L258.00 286.81L258.40 285.67L258.80 284.54L259.20 283.41L259.61 282.28L260.01 281.15L260.41 280.02L260.82 278.89L261.22 277.76L261.62 276.63L262.03 275.50L262.43 274.37L262.83 273.24L263.23 272.11L263.63 270.98L264.03 269.84L264.42 268.71L264.81 267.58L265.21 266.44L265.60 265.31L265.98 264.17L266.37 263.04L266.75 261.90L267.13 260.76L267.51 259.62L267.89 258.48L268.27 257.34L268.65 256.21L269.03 255.07L269.41 253.93L269.80 252.80L270.19 251.66L270.58 250.53L270.98 249.40L271.38 248.27L271.79 247.14L272.21 246.02L272.64 244.90L273.08 243.79L273.56 242.69L274.06 241.61L274.57 240.53L275.16 239.48L275.85 238.50L276.66 237.64L277.64 237.06L278.68 237.08L279.69 237.64L280.51 238.49L281.15 239.50L281.57 240.59L281.84 241.74L282.11 242.89L282.37 244.05L282.61 245.22L282.84 246.39L283.07 247.57L283.28 248.75L283.50 249.93L283.71 251.11L283.91 252.30L284.12 253.48L284.32 254.66L284.52 255.84L284.72 257.03L284.91 258.21L285.10 259.40L285.29 260.58L285.47 261.77L285.65 262.95L285.83 264.14L286.01 265.33L286.18 266.52L286.35 267.70L286.52 268.89L286.68 270.08L286.85 271.27L287.01 272.46L287.16 273.65L287.32 274.84L287.47 276.03L287.62 277.22L287.77 278.41L287.92 279.60L288.07 280.79L288.21 281.98L288.35 283.17L288.49 284.37L288.62 285.56L288.75 286.75L288.88 287.94L289.02 289.14L289.15 290.33L289.28 291.52L289.41 292.72L289.53 293.91L289.66 295.10L289.78 296.30L289.90 297.49L290.02 298.68L290.13 299.88L290.24 301.07L290.36 302.27L290.47 303.46L290.58 304.66L290.69 305.85L290.80 307.05L290.92 308.24L291.03 309.44L291.14 310.63L291.25 311.83L291.36 313.02L291.47 314.22L291.58 315.41L291.68 316.61L291.79 317.80L291.89 319.00L291.99 320.19L292.10 321.39L292.20 322.59L292.30 323.78L292.40 324.98L292.50 326.17L292.60 327.37L292.70 328.56L292.80 329.76L292.91 330.96L293.01 332.15L293.11 333.35L293.21 334.54L293.31 335.74L293.42 336.93L293.52 338.13L293.62 339.32L293.73 340.52L293.83 341.72L293.93 342.91L294.04 344.11L294.14 345.30L294.24 346.50L294.35 347.69L294.45 348.89L294.56 350.08L294.66 351.28L294.77 352.47L294.87 353.67L294.98 354.87L295.09 356.06L295.21 357.25L295.32 358.45L295.44 359.64L295.56 360.84L295.68 362.03L295.80 363.23L295.92 364.42L296.04 365.61L296.16 366.81L296.28 368.00L296.40 369.20L296.52 370.39L296.64 371.58L296.76 372.78L296.89 373.97L297.02 375.16L297.16 376.35L297.30 377.55L297.45 378.74L297.59 379.93L297.74 381.12L297.89 382.31L298.03 383.50L298.18 384.69L298.33 385.88L298.48 387.07L298.62 388.26L298.77 389.46L298.92 390.65L299.07 391.84L299.23 393.03L299.38 394.22L299.55 395.40L299.71 396.59L299.89 397.78L300.06 398.97L300.25 400.15L300.43 401.34L300.62 402.52L300.81 403.71L301.01 404.89L301.20 406.08L301.40 407.26L301.59 408.44L301.79 409.63L301.99 410.81L302.19 411.99L302.39 413.18L302.60 414.36L302.81 415.54L303.03 416.72L303.26 417.90L303.50 419.07L303.76 420.24L304.04 421.40L304.37 422.54L304.71 423.68L305.11 424.80L305.58 425.90L306.07 426.99L306.59 428.06L307.19 429.10L307.89 430.07L308.70 430.93L309.69 431.58L310.79 431.99L311.96 432.20L313.15 432.34L314.35 432.38L315.55 432.39L316.75 432.41L317.95 432.43L319.15 432.45L320.35 432.46L321.55 432.48L322.75 432.49L323.95 432.50L325.15 432.51L326.35 432.52L327.55 432.53L328.75 432.54L329.95 432.55L331.15 432.56L332.35 432.57L333.55 432.58L334.75 432.59L335.95 432.60L337.15 432.61L338.35 432.62L339.55 432.63L340.75 432.63L341.95 432.64L343.15 432.65L344.35 432.66L345.55 432.66L346.75 432.67L347.95 432.68L349.15 432.68L350.35 432.69L351.55 432.70L352.75 432.71L353.95 432.71L355.15 432.72L356.35 432.73L357.55 432.73L358.75 432.74L359.95 432.75L361.15 432.76L362.35 432.76L363.55 432.77L364.75 432.78L365.95 432.79L367.15 432.79L368.35 432.80L369.55 432.81L370.75 432.81L371.95 432.82L373.15 432.83L374.35 432.84L375.55 432.84L376.75 432.85L377.94 432.86L379.14 432.87L380.32 432.87L381.49 432.88L382.64 432.89L383.78 432.89L384.90 432.90L384.90 432.90" class="cb"/>
<path d="M256.80 290.20L257.20 289.07L257.60 287.94L258.00 286.81L258.40 285.67L258.80 284.54L259.20 283.41L259.61 282.28L260.01 281.15L260.41 280.02L260.82 278.89L261.22 277.76L261.62 276.63L262.03 275.50L262.43 274.37L262.83 273.24L263.23 272.11L263.63 270.98L264.03 269.84L264.42 268.71L264.81 267.58L265.21 266.44L265.60 265.31L265.98 264.17L266.37 263.04L266.75 261.90L267.13 260.76L267.51 259.62L267.89 258.48L268.27 257.34L268.65 256.21L269.03 255.07L269.41 253.93L269.80 252.80L270.19 251.66L270.58 250.53L270.98 249.40L271.38 248.27L271.79 247.14L272.21 246.02L272.64 244.90L273.08 243.79L273.56 242.69L274.06 241.61L274.57 240.53L275.16 239.48L275.85 238.50L276.66 237.64L277.64 237.06L278.68 237.08L279.69 237.64L280.51 238.49L281.15 239.50L281.57 240.59L281.84 241.74L282.11 242.89L282.37 244.05L282.61 245.22L282.84 246.39L283.07 247.57L283.28 248.75L283.50 249.93L283.71 251.11L283.91 252.30L284.12 253.48L284.32 254.66L284.52 255.84L284.72 257.03L284.91 258.21L285.10 259.40L285.29 260.58L285.47 261.77L285.65 262.95L285.83 264.14L286.01 265.33L286.18 266.52L286.35 267.70L286.52 268.89L286.68 270.08L286.85 271.27L287.01 272.46L287.16 273.65L287.32 274.84L287.47 276.03L287.62 277.22L287.77 278.41L287.92 279.60L288.07 280.79L288.21 281.98L288.35 283.17L288.49 284.37L288.62 285.56L288.75 286.75L288.88 287.94L289.02 289.14L289.15 290.33L289.28 291.52L289.41 292.72L289.53 293.91L289.66 295.10L289.78 296.30L289.90 297.49L290.02 298.68L290.13 299.88L290.24 301.07L290.36 302.27L290.47 303.46L290.58 304.66L290.69 305.85L290.80 307.05L290.92 308.24L291.03 309.44L291.14 310.63L291.25 311.83L291.36 313.02L291.47 314.22L291.58 315.41L291.68 316.61L291.79 317.80L291.89 319.00L291.99 320.19L292.10 321.39L292.20 322.59L292.30 323.78L292.40 324.98L292.50 326.17L292.60 327.37L292.70 328.56L292.80 329.76L292.91 330.96L293.01 332.15L293.11 333.35L293.21 334.54L293.31 335.74L293.42 336.93L293.52 338.13L293.62 339.32L293.73 340.52L293.83 341.72L293.93 342.91L294.04 344.11L294.14 345.30L294.24 346.50L294.35 347.69L294.45 348.89L294.56 350.08L294.66 351.28L294.77 352.47L294.87 353.67L294.98 354.87L295.09 356.06L295.21 357.25L295.32 358.45L295.44 359.64L295.56 360.84L295.68 362.03L295.80 363.23L295.92 364.42L296.04 365.61L296.16 366.81L296.28 368.00L296.40 369.20L296.52 370.39L296.64 371.58L296.76 372.78L296.89 373.97L297.02 375.16L297.16 376.35L297.30 377.55L297.45 378.74L297.59 379.93L297.74 381.12L297.89 382.31L298.03 383.50L298.18 384.69L298.33 385.88L298.48 387.07L298.62 388.26L298.77 389.46L298.92 390.65L299.07 391.84L299.23 393.03L299.38 394.22L299.55 395.40L299.71 396.59L299.89 397.78L300.06 398.97L300.25 400.15L300.43 401.34L300.62 402.52L300.81 403.71L301.01 404.89L301.20 406.08L301.40 407.26L301.59 408.44L301.79 409.63L301.99 410.81L302.19 411.99L302.39 413.18L302.60 414.36L302.81 415.54L303.03 416.72L303.26 417.90L303.50 419.07L303.76 420.24L304.04 421.40L304.37 422.54L304.71 423.68L305.11 424.80L305.58 425.90L306.07 426.99L306.59 428.06L307.19 429.10L307.89 430.07L308.70 430.93L309.69 431.58L310.79 431.99L311.96 432.20L313.15 432.34L314.35 432.38L315.55 432.39L316.75 432.41L317.95 432.43L319.15 432.45L320.35 432.46L321.55 432.48L322.75 432.49L323.95 432.50L325.15 432.51L326.35 432.52L327.55 432.53L328.75 432.54L329.95 432.55L331.15 432.56L332.35 432.57L333.55 432.58L334.75 432.59L335.95 432.60L337.15 432.61L338.35 432.62L339.55 432.63L340.75 432.63L341.95 432.64L343.15 432.65L344.35 432.66L345.55 432.66L346.75 432.67L347.95 432.68L349.15 432.68L350.35 432.69L351.55 432.70L352.75 432.71L353.95 432.71L355.15 432.72L356.35 432.73L357.55 432.73L358.75 432.74L359.95 432.75L361.15 432.76L362.35 432.76L363.55 432.77L364.75 432.78L365.95 432.79L367.15 432.79L368.35 432.80L369.55 432.81L370.75 432.81L371.95 432.82L373.15 432.83L374.35 432.84L375.55 432.84L376.75 432.85L377.94 432.86L379.14 432.87L380.32 432.87L381.49 432.88L382.64 432.89L383.78 432.89L384.90 432.90L384.90 432.90" class="cu"/>
<path d="M256.50 259.40L256.91 258.27L257.33 257.15L257.77 256.03L258.22 254.92L258.69 253.83L259.19 252.74L259.72 251.67L260.29 250.61L260.89 249.58L261.53 248.58L262.21 247.62L262.96 246.70L263.75 245.83L264.61 245.02L265.52 244.27L266.48 243.58L267.47 242.93L268.50 242.34L269.56 241.79L270.64 241.28L271.73 240.80L272.84 240.33L273.95 239.89L275.07 239.47L276.20 239.08L277.34 238.73L278.49 238.42L279.65 238.15L280.83 237.94L282.01 237.75L283.20 237.60L284.39 237.48L285.58 237.36L286.78 237.27L287.97 237.18L289.17 237.12L290.37 237.07L291.56 237.04L292.76 237.02L293.96 237.01L295.16 237.01L296.36 237.02L297.56 237.03L298.76 237.06L299.96 237.10L301.16 237.16L302.35 237.24L303.54 237.34L304.72 237.46L305.89 237.63L307.04 237.87L308.14 238.20L309.19 238.64L310.18 239.20L311.10 239.87L311.95 240.65L312.71 241.52L313.41 242.46L314.05 243.45L314.64 244.48L315.20 245.53L315.76 246.59L316.31 247.65L316.87 248.71L317.43 249.77L317.99 250.83L318.52 251.89L319.03 252.97L319.49 254.07L319.92 255.18L320.31 256.31L320.68 257.45L321.02 258.60L321.36 259.75L321.69 260.90L322.02 262.06L322.35 263.21L322.68 264.37L323.00 265.52L323.32 266.68L323.64 267.84L323.95 268.99L324.25 270.15L324.55 271.32L324.85 272.48L325.15 273.64L325.44 274.80L325.73 275.97L326.01 277.14L326.29 278.30L326.56 279.47L326.83 280.64L327.09 281.81L327.36 282.98L327.62 284.15L327.89 285.32L328.15 286.49L328.42 287.66L328.68 288.83L328.95 290.00L329.21 291.18L329.47 292.35L329.73 293.52L329.99 294.69L330.24 295.86L330.48 297.04L330.72 298.21L330.96 299.39L331.19 300.57L331.42 301.75L331.65 302.92L331.88 304.10L332.11 305.28L332.33 306.46L332.56 307.64L332.79 308.81L333.02 309.99L333.25 311.17L333.47 312.35L333.70 313.53L333.92 314.71L334.14 315.89L334.36 317.07L334.57 318.25L334.78 319.43L334.99 320.61L335.20 321.79L335.41 322.97L335.61 324.16L335.82 325.34L336.03 326.52L336.24 327.70L336.44 328.88L336.65 330.07L336.86 331.25L337.07 332.43L337.27 333.61L337.48 334.79L337.69 335.98L337.89 337.16L338.09 338.34L338.30 339.52L338.50 340.71L338.70 341.89L338.91 343.07L339.11 344.25L339.31 345.44L339.52 346.62L339.72 347.80L339.92 348.98L340.13 350.17L340.33 351.35L340.53 352.53L340.74 353.71L340.95 354.90L341.15 356.08L341.36 357.26L341.57 358.44L341.78 359.62L342.00 360.80L342.21 361.99L342.42 363.17L342.63 364.35L342.85 365.53L343.06 366.71L343.27 367.89L343.49 369.07L343.71 370.25L343.93 371.43L344.15 372.61L344.38 373.79L344.61 374.96L344.84 376.14L345.08 377.32L345.32 378.49L345.56 379.67L345.80 380.84L346.04 382.02L346.28 383.20L346.53 384.37L346.77 385.55L347.01 386.72L347.26 387.90L347.50 389.07L347.74 390.25L347.99 391.42L348.24 392.59L348.49 393.77L348.76 394.94L349.02 396.11L349.30 397.27L349.58 398.44L349.86 399.61L350.15 400.77L350.43 401.94L350.72 403.10L351.00 404.27L351.29 405.44L351.57 406.60L351.86 407.77L352.15 408.93L352.45 410.09L352.75 411.25L353.08 412.40L353.44 413.54L353.83 414.67L354.26 415.78L354.74 416.87L355.24 417.96L355.77 419.03L356.32 420.09L356.88 421.14L357.53 422.13L358.28 423.07L359.06 423.98L359.85 424.89L360.66 425.76L361.61 426.45L362.67 427.01L363.74 427.55L364.86 427.91L366.05 428.07L367.24 428.20L368.42 428.32L369.62 428.41L370.81 428.48L372.01 428.53L373.21 428.58L374.41 428.61L375.61 428.65L376.80 428.68L378.00 428.71L379.20 428.74L380.40 428.76L381.60 428.79L382.80 428.82L384.00 428.85L385.20 428.88L386.40 428.91L387.60 428.94L388.80 428.97L390.00 429.00L391.20 429.03L392.40 429.06L393.60 429.09L394.80 429.11L396.00 429.14L397.20 429.17L398.40 429.20L399.60 429.23L400.80 429.26L402.00 429.29L403.20 429.32L404.40 429.35L405.60 429.38L406.80 429.41L408.00 429.44L409.20 429.46L410.39 429.49L411.59 429.52L412.79 429.55L413.99 429.58L415.19 429.61L416.39 429.64L417.59 429.67L418.79 429.70L419.99 429.73L421.19 429.76L422.39 429.79L423.59 429.81L424.79 429.84L425.99 429.87L427.19 429.90L428.39 429.93L429.59 429.96L430.79 429.99L431.99 430.02L433.19 430.05L434.39 430.08L435.59 430.11L436.79 430.13L437.99 430.16L439.19 430.19L440.38 430.22L441.58 430.25L442.76 430.28L443.93 430.31L445.08 430.34L446.22 430.36L447.33 430.39L447.70 430.40" class="cb"/>
<path d="M256.50 259.40L256.91 258.27L257.33 257.15L257.77 256.03L258.22 254.92L258.69 253.83L259.19 252.74L259.72 251.67L260.29 250.61L260.89 249.58L261.53 248.58L262.21 247.62L262.96 246.70L263.75 245.83L264.61 245.02L265.52 244.27L266.48 243.58L267.47 242.93L268.50 242.34L269.56 241.79L270.64 241.28L271.73 240.80L272.84 240.33L273.95 239.89L275.07 239.47L276.20 239.08L277.34 238.73L278.49 238.42L279.65 238.15L280.83 237.94L282.01 237.75L283.20 237.60L284.39 237.48L285.58 237.36L286.78 237.27L287.97 237.18L289.17 237.12L290.37 237.07L291.56 237.04L292.76 237.02L293.96 237.01L295.16 237.01L296.36 237.02L297.56 237.03L298.76 237.06L299.96 237.10L301.16 237.16L302.35 237.24L303.54 237.34L304.72 237.46L305.89 237.63L307.04 237.87L308.14 238.20L309.19 238.64L310.18 239.20L311.10 239.87L311.95 240.65L312.71 241.52L313.41 242.46L314.05 243.45L314.64 244.48L315.20 245.53L315.76 246.59L316.31 247.65L316.87 248.71L317.43 249.77L317.99 250.83L318.52 251.89L319.03 252.97L319.49 254.07L319.92 255.18L320.31 256.31L320.68 257.45L321.02 258.60L321.36 259.75L321.69 260.90L322.02 262.06L322.35 263.21L322.68 264.37L323.00 265.52L323.32 266.68L323.64 267.84L323.95 268.99L324.25 270.15L324.55 271.32L324.85 272.48L325.15 273.64L325.44 274.80L325.73 275.97L326.01 277.14L326.29 278.30L326.56 279.47L326.83 280.64L327.09 281.81L327.36 282.98L327.62 284.15L327.89 285.32L328.15 286.49L328.42 287.66L328.68 288.83L328.95 290.00L329.21 291.18L329.47 292.35L329.73 293.52L329.99 294.69L330.24 295.86L330.48 297.04L330.72 298.21L330.96 299.39L331.19 300.57L331.42 301.75L331.65 302.92L331.88 304.10L332.11 305.28L332.33 306.46L332.56 307.64L332.79 308.81L333.02 309.99L333.25 311.17L333.47 312.35L333.70 313.53L333.92 314.71L334.14 315.89L334.36 317.07L334.57 318.25L334.78 319.43L334.99 320.61L335.20 321.79L335.41 322.97L335.61 324.16L335.82 325.34L336.03 326.52L336.24 327.70L336.44 328.88L336.65 330.07L336.86 331.25L337.07 332.43L337.27 333.61L337.48 334.79L337.69 335.98L337.89 337.16L338.09 338.34L338.30 339.52L338.50 340.71L338.70 341.89L338.91 343.07L339.11 344.25L339.31 345.44L339.52 346.62L339.72 347.80L339.92 348.98L340.13 350.17L340.33 351.35L340.53 352.53L340.74 353.71L340.95 354.90L341.15 356.08L341.36 357.26L341.57 358.44L341.78 359.62L342.00 360.80L342.21 361.99L342.42 363.17L342.63 364.35L342.85 365.53L343.06 366.71L343.27 367.89L343.49 369.07L343.71 370.25L343.93 371.43L344.15 372.61L344.38 373.79L344.61 374.96L344.84 376.14L345.08 377.32L345.32 378.49L345.56 379.67L345.80 380.84L346.04 382.02L346.28 383.20L346.53 384.37L346.77 385.55L347.01 386.72L347.26 387.90L347.50 389.07L347.74 390.25L347.99 391.42L348.24 392.59L348.49 393.77L348.76 394.94L349.02 396.11L349.30 397.27L349.58 398.44L349.86 399.61L350.15 400.77L350.43 401.94L350.72 403.10L351.00 404.27L351.29 405.44L351.57 406.60L351.86 407.77L352.15 408.93L352.45 410.09L352.75 411.25L353.08 412.40L353.44 413.54L353.83 414.67L354.26 415.78L354.74 416.87L355.24 417.96L355.77 419.03L356.32 420.09L356.88 421.14L357.53 422.13L358.28 423.07L359.06 423.98L359.85 424.89L360.66 425.76L361.61 426.45L362.67 427.01L363.74 427.55L364.86 427.91L366.05 428.07L367.24 428.20L368.42 428.32L369.62 428.41L370.81 428.48L372.01 428.53L373.21 428.58L374.41 428.61L375.61 428.65L376.80 428.68L378.00 428.71L379.20 428.74L380.40 428.76L381.60 428.79L382.80 428.82L384.00 428.85L385.20 428.88L386.40 428.91L387.60 428.94L388.80 428.97L390.00 429.00L391.20 429.03L392.40 429.06L393.60 429.09L394.80 429.11L396.00 429.14L397.20 429.17L398.40 429.20L399.60 429.23L400.80 429.26L402.00 429.29L403.20 429.32L404.40 429.35L405.60 429.38L406.80 429.41L408.00 429.44L409.20 429.46L410.39 429.49L411.59 429.52L412.79 429.55L413.99 429.58L415.19 429.61L416.39 429.64L417.59 429.67L418.79 429.70L419.99 429.73L421.19 429.76L422.39 429.79L423.59 429.81L424.79 429.84L425.99 429.87L427.19 429.90L428.39 429.93L429.59 429.96L430.79 429.99L431.99 430.02L433.19 430.05L434.39 430.08L435.59 430.11L436.79 430.13L437.99 430.16L439.19 430.19L440.38 430.22L441.58 430.25L442.76 430.28L443.93 430.31L445.08 430.34L446.22 430.36L447.33 430.39L447.70 430.40" class="cu"/>
<path d="M257.10 269.80L257.46 268.66L257.83 267.52L258.22 266.40L258.66 265.31L259.16 264.24L259.73 263.21L260.37 262.22L261.07 261.27L261.82 260.35L262.61 259.47L263.44 258.61L264.31 257.80L265.21 257.01L266.14 256.26L267.09 255.54L268.06 254.84L269.05 254.17L270.06 253.53L271.09 252.91L272.13 252.32L273.18 251.74L274.23 251.17L275.28 250.60L276.33 250.02L277.37 249.42L278.39 248.80L279.41 248.17L280.41 247.52L281.42 246.86L282.42 246.21L283.44 245.58L284.47 244.96L285.51 244.37L286.56 243.81L287.63 243.26L288.71 242.74L289.80 242.24L290.89 241.75L292.00 241.28L293.10 240.83L294.22 240.38L295.34 239.95L296.46 239.53L297.59 239.13L298.72 238.76L299.87 238.42L301.02 238.12L302.19 237.88L303.36 237.69L304.54 237.57L305.72 237.51L306.91 237.51L308.10 237.57L309.29 237.66L310.48 237.78L311.67 237.91L312.86 238.06L314.05 238.21L315.24 238.36L316.43 238.52L317.62 238.69L318.80 238.88L319.98 239.09L321.15 239.33L322.32 239.59L323.48 239.89L324.63 240.20L325.79 240.53L326.94 240.86L328.09 241.20L329.24 241.54L330.39 241.89L331.54 242.23L332.69 242.58L333.83 242.94L334.97 243.30L336.10 243.69L337.22 244.11L338.32 244.56L339.41 245.05L340.47 245.59L341.52 246.16L342.56 246.76L343.58 247.38L344.59 248.02L345.58 248.68L346.53 249.39L347.46 250.13L348.35 250.92L349.21 251.74L350.04 252.60L350.85 253.47L351.66 254.36L352.46 255.25L353.26 256.15L354.05 257.05L354.82 257.96L355.59 258.89L356.34 259.82L357.07 260.77L357.78 261.73L358.48 262.71L359.18 263.68L359.87 264.66L360.56 265.64L361.25 266.63L361.94 267.61L362.62 268.59L363.31 269.58L363.98 270.57L364.65 271.57L365.30 272.58L365.93 273.59L366.56 274.62L367.17 275.65L367.77 276.69L368.37 277.73L368.97 278.77L369.56 279.81L370.16 280.85L370.75 281.89L371.33 282.94L371.91 283.99L372.48 285.05L373.04 286.11L373.59 287.18L374.13 288.25L374.65 289.33L375.17 290.41L375.68 291.50L376.18 292.59L376.67 293.68L377.15 294.78L377.62 295.88L378.07 296.99L378.52 298.11L378.95 299.23L379.38 300.35L379.81 301.47L380.24 302.59L380.67 303.71L381.09 304.83L381.52 305.95L381.94 307.07L382.37 308.20L382.80 309.32L383.22 310.44L383.64 311.56L384.06 312.69L384.47 313.82L384.87 314.95L385.26 316.08L385.64 317.22L386.01 318.36L386.37 319.51L386.72 320.65L387.07 321.80L387.42 322.95L387.77 324.10L388.11 325.24L388.46 326.39L388.81 327.54L389.16 328.69L389.51 329.84L389.85 330.99L390.20 332.14L390.54 333.28L390.89 334.44L391.23 335.59L391.56 336.74L391.89 337.89L392.23 339.04L392.55 340.20L392.88 341.35L393.21 342.51L393.54 343.66L393.87 344.82L394.19 345.97L394.52 347.12L394.85 348.28L395.18 349.43L395.50 350.59L395.83 351.74L396.16 352.90L396.49 354.05L396.83 355.20L397.17 356.35L397.51 357.50L397.86 358.65L398.21 359.80L398.57 360.94L398.93 362.09L399.30 363.23L399.67 364.37L400.04 365.51L400.42 366.65L400.79 367.79L401.17 368.93L401.54 370.07L401.92 371.21L402.30 372.35L402.68 373.49L403.07 374.62L403.47 375.75L403.88 376.88L404.29 378.01L404.71 379.13L405.14 380.25L405.57 381.37L406.02 382.48L406.47 383.60L406.93 384.70L407.40 385.81L407.87 386.91L408.35 388.01L408.83 389.11L409.32 390.20L409.81 391.30L410.31 392.39L410.81 393.48L411.32 394.57L411.84 395.65L412.37 396.73L412.90 397.80L413.44 398.87L413.99 399.94L414.55 401.00L415.11 402.06L415.68 403.11L416.27 404.16L416.86 405.21L417.46 406.24L418.08 407.27L418.71 408.28L419.37 409.28L420.06 410.26L420.78 411.21L421.53 412.13L422.32 413.02L423.16 413.85L424.04 414.64L424.97 415.37L425.94 416.04L426.96 416.65L428.01 417.20L429.09 417.70L430.19 418.14L431.31 418.53L432.45 418.87L433.61 419.15L434.78 419.39L435.95 419.59L437.14 419.76L438.33 419.90L439.52 420.02L440.71 420.12L441.90 420.20L443.09 420.27L444.26 420.34L445.42 420.39L446.56 420.45L447.70 420.50L447.70 420.50" class="cb"/>
<path d="M257.10 269.80L257.46 268.66L257.83 267.52L258.22 266.40L258.66 265.31L259.16 264.24L259.73 263.21L260.37 262.22L261.07 261.27L261.82 260.35L262.61 259.47L263.44 258.61L264.31 257.80L265.21 257.01L266.14 256.26L267.09 255.54L268.06 254.84L269.05 254.17L270.06 253.53L271.09 252.91L272.13 252.32L273.18 251.74L274.23 251.17L275.28 250.60L276.33 250.02L277.37 249.42L278.39 248.80L279.41 248.17L280.41 247.52L281.42 246.86L282.42 246.21L283.44 245.58L284.47 244.96L285.51 244.37L286.56 243.81L287.63 243.26L288.71 242.74L289.80 242.24L290.89 241.75L292.00 241.28L293.10 240.83L294.22 240.38L295.34 239.95L296.46 239.53L297.59 239.13L298.72 238.76L299.87 238.42L301.02 238.12L302.19 237.88L303.36 237.69L304.54 237.57L305.72 237.51L306.91 237.51L308.10 237.57L309.29 237.66L310.48 237.78L311.67 237.91L312.86 238.06L314.05 238.21L315.24 238.36L316.43 238.52L317.62 238.69L318.80 238.88L319.98 239.09L321.15 239.33L322.32 239.59L323.48 239.89L324.63 240.20L325.79 240.53L326.94 240.86L328.09 241.20L329.24 241.54L330.39 241.89L331.54 242.23L332.69 242.58L333.83 242.94L334.97 243.30L336.10 243.69L337.22 244.11L338.32 244.56L339.41 245.05L340.47 245.59L341.52 246.16L342.56 246.76L343.58 247.38L344.59 248.02L345.58 248.68L346.53 249.39L347.46 250.13L348.35 250.92L349.21 251.74L350.04 252.60L350.85 253.47L351.66 254.36L352.46 255.25L353.26 256.15L354.05 257.05L354.82 257.96L355.59 258.89L356.34 259.82L357.07 260.77L357.78 261.73L358.48 262.71L359.18 263.68L359.87 264.66L360.56 265.64L361.25 266.63L361.94 267.61L362.62 268.59L363.31 269.58L363.98 270.57L364.65 271.57L365.30 272.58L365.93 273.59L366.56 274.62L367.17 275.65L367.77 276.69L368.37 277.73L368.97 278.77L369.56 279.81L370.16 280.85L370.75 281.89L371.33 282.94L371.91 283.99L372.48 285.05L373.04 286.11L373.59 287.18L374.13 288.25L374.65 289.33L375.17 290.41L375.68 291.50L376.18 292.59L376.67 293.68L377.15 294.78L377.62 295.88L378.07 296.99L378.52 298.11L378.95 299.23L379.38 300.35L379.81 301.47L380.24 302.59L380.67 303.71L381.09 304.83L381.52 305.95L381.94 307.07L382.37 308.20L382.80 309.32L383.22 310.44L383.64 311.56L384.06 312.69L384.47 313.82L384.87 314.95L385.26 316.08L385.64 317.22L386.01 318.36L386.37 319.51L386.72 320.65L387.07 321.80L387.42 322.95L387.77 324.10L388.11 325.24L388.46 326.39L388.81 327.54L389.16 328.69L389.51 329.84L389.85 330.99L390.20 332.14L390.54 333.28L390.89 334.44L391.23 335.59L391.56 336.74L391.89 337.89L392.23 339.04L392.55 340.20L392.88 341.35L393.21 342.51L393.54 343.66L393.87 344.82L394.19 345.97L394.52 347.12L394.85 348.28L395.18 349.43L395.50 350.59L395.83 351.74L396.16 352.90L396.49 354.05L396.83 355.20L397.17 356.35L397.51 357.50L397.86 358.65L398.21 359.80L398.57 360.94L398.93 362.09L399.30 363.23L399.67 364.37L400.04 365.51L400.42 366.65L400.79 367.79L401.17 368.93L401.54 370.07L401.92 371.21L402.30 372.35L402.68 373.49L403.07 374.62L403.47 375.75L403.88 376.88L404.29 378.01L404.71 379.13L405.14 380.25L405.57 381.37L406.02 382.48L406.47 383.60L406.93 384.70L407.40 385.81L407.87 386.91L408.35 388.01L408.83 389.11L409.32 390.20L409.81 391.30L410.31 392.39L410.81 393.48L411.32 394.57L411.84 395.65L412.37 396.73L412.90 397.80L413.44 398.87L413.99 399.94L414.55 401.00L415.11 402.06L415.68 403.11L416.27 404.16L416.86 405.21L417.46 406.24L418.08 407.27L418.71 408.28L419.37 409.28L420.06 410.26L420.78 411.21L421.53 412.13L422.32 413.02L423.16 413.85L424.04 414.64L424.97 415.37L425.94 416.04L426.96 416.65L428.01 417.20L429.09 417.70L430.19 418.14L431.31 418.53L432.45 418.87L433.61 419.15L434.78 419.39L435.95 419.59L437.14 419.76L438.33 419.90L439.52 420.02L440.71 420.12L441.90 420.20L443.09 420.27L444.26 420.34L445.42 420.39L446.56 420.45L447.70 420.50L447.70 420.50" class="cu"/>
<text x="281.2" y="392.9" class="el" textLength="17.2" lengthAdjust="spacingAndGlyphs">6 MeV-</text>
<text x="328.2" y="392.9" class="el" textLength="17.4" lengthAdjust="spacingAndGlyphs">12 MeV-</text>
<text x="389.8" y="392.7" class="el" textLength="17.6" lengthAdjust="spacingAndGlyphs">20 MeV-</text>
<rect x="441.66" y="234" width="20" height="6" fill="#fff"/>
<text x="442.7" y="247.9" class="pl">d</text>
</svg>
</body></html>
